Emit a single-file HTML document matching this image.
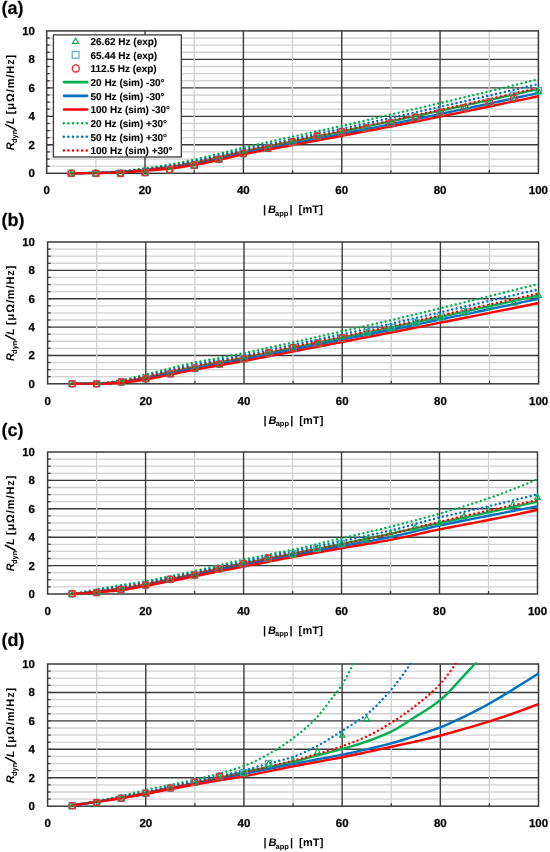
<!DOCTYPE html>
<html><head><meta charset="utf-8"><style>
html,body{margin:0;padding:0;background:#fff;}
body{width:550px;height:852px;overflow:hidden;}
svg{display:block;will-change:transform;}
text{font-family:"Liberation Sans", sans-serif;font-weight:bold;fill:#000;stroke:#000;stroke-width:0;text-rendering:geometricPrecision;}
.tl{font-size:11.5px;stroke-width:0.25px;}
.at{font-size:11px;}
.sub{font-size:7.5px;}
.pl{font-size:18px;stroke-width:0.2px;}
.lg{font-size:10px;stroke-width:0.12px;}
</style></head><body>
<svg width="550" height="852" viewBox="0 0 550 852">
<clipPath id="clipa"><rect x="46.7" y="29.4" width="492.7" height="145.4"/></clipPath>
<line x1="46.7" y1="166.18" x2="538.4" y2="166.18" stroke="#d0d0d0" stroke-width="1.3"/>
<line x1="46.7" y1="159.06" x2="538.4" y2="159.06" stroke="#d0d0d0" stroke-width="1.3"/>
<line x1="46.7" y1="151.94" x2="538.4" y2="151.94" stroke="#d0d0d0" stroke-width="1.3"/>
<line x1="46.7" y1="137.7" x2="538.4" y2="137.7" stroke="#d0d0d0" stroke-width="1.3"/>
<line x1="46.7" y1="130.58" x2="538.4" y2="130.58" stroke="#d0d0d0" stroke-width="1.3"/>
<line x1="46.7" y1="123.46" x2="538.4" y2="123.46" stroke="#d0d0d0" stroke-width="1.3"/>
<line x1="46.7" y1="109.22" x2="538.4" y2="109.22" stroke="#d0d0d0" stroke-width="1.3"/>
<line x1="46.7" y1="102.1" x2="538.4" y2="102.1" stroke="#d0d0d0" stroke-width="1.3"/>
<line x1="46.7" y1="94.98" x2="538.4" y2="94.98" stroke="#d0d0d0" stroke-width="1.3"/>
<line x1="46.7" y1="80.74" x2="538.4" y2="80.74" stroke="#d0d0d0" stroke-width="1.3"/>
<line x1="46.7" y1="73.62" x2="538.4" y2="73.62" stroke="#d0d0d0" stroke-width="1.3"/>
<line x1="46.7" y1="66.5" x2="538.4" y2="66.5" stroke="#d0d0d0" stroke-width="1.3"/>
<line x1="46.7" y1="52.26" x2="538.4" y2="52.26" stroke="#d0d0d0" stroke-width="1.3"/>
<line x1="46.7" y1="45.14" x2="538.4" y2="45.14" stroke="#d0d0d0" stroke-width="1.3"/>
<line x1="46.7" y1="38.02" x2="538.4" y2="38.02" stroke="#d0d0d0" stroke-width="1.3"/>
<line x1="46.7" y1="144.82" x2="538.4" y2="144.82" stroke="#3a3a3a" stroke-width="1.4"/>
<line x1="46.7" y1="116.34" x2="538.4" y2="116.34" stroke="#3a3a3a" stroke-width="1.4"/>
<line x1="46.7" y1="87.86" x2="538.4" y2="87.86" stroke="#3a3a3a" stroke-width="1.4"/>
<line x1="46.7" y1="59.38" x2="538.4" y2="59.38" stroke="#3a3a3a" stroke-width="1.4"/>
<line x1="95.87" y1="30.9" x2="95.87" y2="173.3" stroke="#d0d0d0" stroke-width="1.3"/>
<line x1="194.21" y1="30.9" x2="194.21" y2="173.3" stroke="#d0d0d0" stroke-width="1.3"/>
<line x1="292.55" y1="30.9" x2="292.55" y2="173.3" stroke="#d0d0d0" stroke-width="1.3"/>
<line x1="390.89" y1="30.9" x2="390.89" y2="173.3" stroke="#d0d0d0" stroke-width="1.3"/>
<line x1="489.23" y1="30.9" x2="489.23" y2="173.3" stroke="#d0d0d0" stroke-width="1.3"/>
<line x1="145.04" y1="30.9" x2="145.04" y2="173.3" stroke="#3a3a3a" stroke-width="1.4"/>
<line x1="243.38" y1="30.9" x2="243.38" y2="173.3" stroke="#3a3a3a" stroke-width="1.4"/>
<line x1="341.72" y1="30.9" x2="341.72" y2="173.3" stroke="#3a3a3a" stroke-width="1.4"/>
<line x1="440.06" y1="30.9" x2="440.06" y2="173.3" stroke="#3a3a3a" stroke-width="1.4"/>
<line x1="46.7" y1="166.18" x2="49.7" y2="166.18" stroke="#3a3a3a" stroke-width="1.3"/>
<line x1="46.7" y1="159.06" x2="49.7" y2="159.06" stroke="#3a3a3a" stroke-width="1.3"/>
<line x1="46.7" y1="151.94" x2="49.7" y2="151.94" stroke="#3a3a3a" stroke-width="1.3"/>
<line x1="46.7" y1="144.82" x2="49.7" y2="144.82" stroke="#3a3a3a" stroke-width="1.3"/>
<line x1="46.7" y1="137.7" x2="49.7" y2="137.7" stroke="#3a3a3a" stroke-width="1.3"/>
<line x1="46.7" y1="130.58" x2="49.7" y2="130.58" stroke="#3a3a3a" stroke-width="1.3"/>
<line x1="46.7" y1="123.46" x2="49.7" y2="123.46" stroke="#3a3a3a" stroke-width="1.3"/>
<line x1="46.7" y1="116.34" x2="49.7" y2="116.34" stroke="#3a3a3a" stroke-width="1.3"/>
<line x1="46.7" y1="109.22" x2="49.7" y2="109.22" stroke="#3a3a3a" stroke-width="1.3"/>
<line x1="46.7" y1="102.1" x2="49.7" y2="102.1" stroke="#3a3a3a" stroke-width="1.3"/>
<line x1="46.7" y1="94.98" x2="49.7" y2="94.98" stroke="#3a3a3a" stroke-width="1.3"/>
<line x1="46.7" y1="87.86" x2="49.7" y2="87.86" stroke="#3a3a3a" stroke-width="1.3"/>
<line x1="46.7" y1="80.74" x2="49.7" y2="80.74" stroke="#3a3a3a" stroke-width="1.3"/>
<line x1="46.7" y1="73.62" x2="49.7" y2="73.62" stroke="#3a3a3a" stroke-width="1.3"/>
<line x1="46.7" y1="66.5" x2="49.7" y2="66.5" stroke="#3a3a3a" stroke-width="1.3"/>
<line x1="46.7" y1="59.38" x2="49.7" y2="59.38" stroke="#3a3a3a" stroke-width="1.3"/>
<line x1="46.7" y1="52.26" x2="49.7" y2="52.26" stroke="#3a3a3a" stroke-width="1.3"/>
<line x1="46.7" y1="45.14" x2="49.7" y2="45.14" stroke="#3a3a3a" stroke-width="1.3"/>
<line x1="46.7" y1="38.02" x2="49.7" y2="38.02" stroke="#3a3a3a" stroke-width="1.3"/>
<line x1="95.87" y1="173.3" x2="95.87" y2="170.3" stroke="#3a3a3a" stroke-width="1.3"/>
<line x1="194.21" y1="173.3" x2="194.21" y2="170.3" stroke="#3a3a3a" stroke-width="1.3"/>
<line x1="292.55" y1="173.3" x2="292.55" y2="170.3" stroke="#3a3a3a" stroke-width="1.3"/>
<line x1="390.89" y1="173.3" x2="390.89" y2="170.3" stroke="#3a3a3a" stroke-width="1.3"/>
<line x1="489.23" y1="173.3" x2="489.23" y2="170.3" stroke="#3a3a3a" stroke-width="1.3"/>
<rect x="46.7" y="30.9" width="491.7" height="142.4" fill="none" stroke="#3a3a3a" stroke-width="1.5"/>
<g clip-path="url(#clipa)" fill="none">
<polyline points="71.28,173.3 76.2,173.26 81.12,173.2 86.04,173.11 90.95,173.01 95.87,172.89 100.79,172.76 105.7,172.59 110.62,172.39 115.54,172.16 120.45,171.89 125.37,171.57 130.29,171.16 135.21,170.69 140.12,170.2 145.04,169.7 149.96,169.2 154.87,168.67 159.79,168.12 164.71,167.53 169.62,166.89 174.54,166.17 179.46,165.38 184.38,164.54 189.29,163.64 194.21,162.71 199.13,161.74 204.04,160.69 208.96,159.6 213.88,158.49 218.8,157.36 223.71,156.21 228.63,155.01 233.55,153.8 238.46,152.61 243.38,151.48 248.3,150.41 253.21,149.37 258.13,148.35 263.05,147.35 267.96,146.37 272.88,145.4 277.8,144.43 282.72,143.46 287.63,142.48 292.55,141.49 297.47,140.5 302.38,139.51 307.3,138.52 312.22,137.53 317.13,136.54 322.05,135.55 326.97,134.56 331.89,133.57 336.8,132.57 341.72,131.56 346.64,130.55 351.55,129.54 356.47,128.52 361.39,127.5 366.31,126.47 371.22,125.44 376.14,124.41 381.06,123.38 385.97,122.34 390.89,121.31 395.81,120.27 400.72,119.23 405.64,118.19 410.56,117.14 415.47,116.09 420.39,115.04 425.31,113.99 430.23,112.93 435.14,111.87 440.06,110.81 444.98,109.74 449.89,108.66 454.81,107.59 459.73,106.5 464.64,105.42 469.56,104.33 474.48,103.24 479.4,102.15 484.31,101.06 489.23,99.96 494.15,98.87 499.06,97.77 503.98,96.67 508.9,95.57 513.81,94.46 518.73,93.36 523.65,92.25 528.57,91.14 533.48,90.03 538.4,88.91" stroke="#00b050" stroke-width="2.4" stroke-linejoin="round"/>
<polyline points="71.28,173.3 76.2,173.26 81.12,173.21 86.04,173.14 90.95,173.05 95.87,172.96 100.79,172.86 105.7,172.73 110.62,172.58 115.54,172.41 120.45,172.2 125.37,171.93 130.29,171.57 135.21,171.16 140.12,170.72 145.04,170.28 149.96,169.84 154.87,169.4 159.79,168.92 164.71,168.41 169.62,167.84 174.54,167.2 179.46,166.49 184.38,165.71 189.29,164.88 194.21,164.01 199.13,163.09 204.04,162.09 208.96,161.04 213.88,159.96 218.8,158.87 223.71,157.74 228.63,156.56 233.55,155.36 238.46,154.19 243.38,153.09 248.3,152.05 253.21,151.04 258.13,150.07 263.05,149.11 267.96,148.17 272.88,147.24 277.8,146.32 282.72,145.39 287.63,144.46 292.55,143.51 297.47,142.55 302.38,141.6 307.3,140.65 312.22,139.7 317.13,138.74 322.05,137.79 326.97,136.84 331.89,135.88 336.8,134.92 341.72,133.95 346.64,132.99 351.55,132.02 356.47,131.05 361.39,130.08 366.31,129.1 371.22,128.12 376.14,127.14 381.06,126.16 385.97,125.17 390.89,124.18 395.81,123.18 400.72,122.18 405.64,121.18 410.56,120.17 415.47,119.16 420.39,118.14 425.31,117.13 430.23,116.1 435.14,115.08 440.06,114.05 444.98,113.02 449.89,111.99 454.81,110.95 459.73,109.91 464.64,108.87 469.56,107.82 474.48,106.77 479.4,105.72 484.31,104.67 489.23,103.62 494.15,102.57 499.06,101.51 503.98,100.46 508.9,99.4 513.81,98.34 518.73,97.28 523.65,96.21 528.57,95.15 533.48,94.08 538.4,93.01" stroke="#0070c0" stroke-width="2.4" stroke-linejoin="round"/>
<polyline points="71.28,173.3 76.2,173.26 81.12,173.22 86.04,173.16 90.95,173.09 95.87,173.02 100.79,172.93 105.7,172.84 110.62,172.73 115.54,172.6 120.45,172.45 125.37,172.22 130.29,171.9 135.21,171.53 140.12,171.13 145.04,170.74 149.96,170.36 154.87,169.97 159.79,169.55 164.71,169.1 169.62,168.6 174.54,168.02 179.46,167.36 184.38,166.64 189.29,165.86 194.21,165.04 199.13,164.16 204.04,163.2 208.96,162.18 213.88,161.12 218.8,160.06 223.71,158.95 228.63,157.78 233.55,156.6 238.46,155.44 243.38,154.36 248.3,153.35 253.21,152.37 258.13,151.43 263.05,150.5 267.96,149.6 272.88,148.7 277.8,147.81 282.72,146.92 287.63,146.02 292.55,145.1 297.47,144.18 302.38,143.26 307.3,142.33 312.22,141.41 317.13,140.49 322.05,139.56 326.97,138.64 331.89,137.71 336.8,136.78 341.72,135.85 346.64,134.92 351.55,133.98 356.47,133.05 361.39,132.12 366.31,131.18 371.22,130.25 376.14,129.31 381.06,128.36 385.97,127.41 390.89,126.45 395.81,125.49 400.72,124.52 405.64,123.54 410.56,122.57 415.47,121.58 420.39,120.6 425.31,119.61 430.23,118.61 435.14,117.62 440.06,116.62 444.98,115.63 449.89,114.62 454.81,113.62 459.73,112.61 464.64,111.6 469.56,110.58 474.48,109.57 479.4,108.55 484.31,107.53 489.23,106.51 494.15,105.5 499.06,104.48 503.98,103.45 508.9,102.43 513.81,101.41 518.73,100.38 523.65,99.35 528.57,98.32 533.48,97.29 538.4,96.26" stroke="#ff0000" stroke-width="2.4" stroke-linejoin="round"/>
<polyline points="71.28,173.3 76.2,173.26 81.12,173.17 86.04,173.04 90.95,172.89 95.87,172.73 100.79,172.53 105.7,172.25 110.62,171.93 115.54,171.56 120.45,171.16 125.37,170.71 130.29,170.18 135.21,169.59 140.12,168.96 145.04,168.32 149.96,167.65 154.87,166.96 159.79,166.22 164.71,165.44 169.62,164.61 174.54,163.72 179.46,162.76 184.38,161.75 189.29,160.7 194.21,159.63 199.13,158.53 204.04,157.37 208.96,156.19 213.88,154.99 218.8,153.79 223.71,152.58 228.63,151.33 233.55,150.09 238.46,148.86 243.38,147.67 248.3,146.52 253.21,145.39 258.13,144.27 263.05,143.18 267.96,142.09 272.88,141.01 277.8,139.94 282.72,138.87 287.63,137.79 292.55,136.7 297.47,135.62 302.38,134.54 307.3,133.46 312.22,132.39 317.13,131.32 322.05,130.24 326.97,129.16 331.89,128.08 336.8,126.98 341.72,125.88 346.64,124.77 351.55,123.64 356.47,122.51 361.39,121.37 366.31,120.22 371.22,119.07 376.14,117.92 381.06,116.78 385.97,115.63 390.89,114.49 395.81,113.35 400.72,112.22 405.64,111.08 410.56,109.95 415.47,108.82 420.39,107.68 425.31,106.55 430.23,105.4 435.14,104.25 440.06,103.1 444.98,101.93 449.89,100.77 454.81,99.59 459.73,98.41 464.64,97.23 469.56,96.05 474.48,94.86 479.4,93.67 484.31,92.47 489.23,91.28 494.15,90.08 499.06,88.88 503.98,87.68 508.9,86.47 513.81,85.26 518.73,84.05 523.65,82.83 528.57,81.62 533.48,80.4 538.4,79.17" stroke="#00b050" stroke-width="2.4" stroke-linecap="round" stroke-dasharray="0.01 4.5"/>
<polyline points="71.28,173.3 76.2,173.26 81.12,173.18 86.04,173.08 90.95,172.95 95.87,172.81 100.79,172.64 105.7,172.42 110.62,172.15 115.54,171.85 120.45,171.52 125.37,171.13 130.29,170.66 135.21,170.13 140.12,169.57 145.04,168.99 149.96,168.41 154.87,167.8 159.79,167.15 164.71,166.47 169.62,165.73 174.54,164.93 179.46,164.05 184.38,163.12 189.29,162.14 194.21,161.14 199.13,160.1 204.04,159 208.96,157.87 213.88,156.71 218.8,155.55 223.71,154.36 228.63,153.14 233.55,151.91 238.46,150.7 243.38,149.54 248.3,148.43 253.21,147.34 258.13,146.28 263.05,145.23 267.96,144.19 272.88,143.17 277.8,142.14 282.72,141.12 287.63,140.09 292.55,139.06 297.47,138.02 302.38,136.98 307.3,135.95 312.22,134.92 317.13,133.88 322.05,132.85 326.97,131.82 331.89,130.78 336.8,129.73 341.72,128.67 346.64,127.61 351.55,126.54 356.47,125.46 361.39,124.38 366.31,123.29 371.22,122.2 376.14,121.11 381.06,120.02 385.97,118.93 390.89,117.84 395.81,116.75 400.72,115.66 405.64,114.57 410.56,113.48 415.47,112.39 420.39,111.3 425.31,110.2 430.23,109.1 435.14,108 440.06,106.88 444.98,105.77 449.89,104.65 454.81,103.52 459.73,102.39 464.64,101.25 469.56,100.12 474.48,98.98 479.4,97.83 484.31,96.69 489.23,95.54 494.15,94.4 499.06,93.25 503.98,92.09 508.9,90.94 513.81,89.78 518.73,88.62 523.65,87.46 528.57,86.3 533.48,85.13 538.4,83.96" stroke="#0070c0" stroke-width="2.4" stroke-linecap="round" stroke-dasharray="0.01 4.5"/>
<polyline points="71.28,173.3 76.2,173.26 81.12,173.19 86.04,173.1 90.95,172.99 95.87,172.88 100.79,172.73 105.7,172.55 110.62,172.34 115.54,172.09 120.45,171.82 125.37,171.48 130.29,171.06 135.21,170.58 140.12,170.07 145.04,169.55 149.96,169.03 154.87,168.49 159.79,167.92 164.71,167.31 169.62,166.65 174.54,165.91 179.46,165.11 184.38,164.24 189.29,163.33 194.21,162.39 199.13,161.4 204.04,160.34 208.96,159.24 213.88,158.12 218.8,156.99 223.71,155.83 228.63,154.62 233.55,153.41 238.46,152.22 243.38,151.08 248.3,150 253.21,148.95 258.13,147.92 263.05,146.91 267.96,145.92 272.88,144.94 277.8,143.95 282.72,142.97 287.63,141.99 292.55,140.99 297.47,139.98 302.38,138.98 307.3,137.99 312.22,136.99 317.13,135.99 322.05,135 326.97,133.99 331.89,132.99 336.8,131.98 341.72,130.96 346.64,129.94 351.55,128.92 356.47,127.88 361.39,126.85 366.31,125.81 371.22,124.77 376.14,123.73 381.06,122.68 385.97,121.64 390.89,120.59 395.81,119.54 400.72,118.49 405.64,117.44 410.56,116.38 415.47,115.33 420.39,114.27 425.31,113.21 430.23,112.14 435.14,111.07 440.06,110 444.98,108.92 449.89,107.83 454.81,106.74 459.73,105.65 464.64,104.56 469.56,103.46 474.48,102.36 479.4,101.26 484.31,100.15 489.23,99.05 494.15,97.94 499.06,96.83 503.98,95.72 508.9,94.61 513.81,93.5 518.73,92.38 523.65,91.26 528.57,90.14 533.48,89.01 538.4,87.89" stroke="#ff0000" stroke-width="2.4" stroke-linecap="round" stroke-dasharray="0.01 4.5"/>
</g>
<rect x="68.08" y="170.1" width="6.4" height="6.4" fill="none" stroke="#4bacc6" stroke-width="1.15"/>
<rect x="92.67" y="170.1" width="6.4" height="6.4" fill="none" stroke="#4bacc6" stroke-width="1.15"/>
<rect x="117.25" y="170.1" width="6.4" height="6.4" fill="none" stroke="#4bacc6" stroke-width="1.15"/>
<rect x="141.84" y="169.39" width="6.4" height="6.4" fill="none" stroke="#4bacc6" stroke-width="1.15"/>
<rect x="166.43" y="166.4" width="6.4" height="6.4" fill="none" stroke="#4bacc6" stroke-width="1.15"/>
<rect x="191.01" y="162.13" width="6.4" height="6.4" fill="none" stroke="#4bacc6" stroke-width="1.15"/>
<rect x="215.6" y="156.14" width="6.4" height="6.4" fill="none" stroke="#4bacc6" stroke-width="1.15"/>
<rect x="240.18" y="150.45" width="6.4" height="6.4" fill="none" stroke="#4bacc6" stroke-width="1.15"/>
<rect x="264.76" y="145.04" width="6.4" height="6.4" fill="none" stroke="#4bacc6" stroke-width="1.15"/>
<rect x="289.35" y="138.77" width="6.4" height="6.4" fill="none" stroke="#4bacc6" stroke-width="1.15"/>
<rect x="313.94" y="132.79" width="6.4" height="6.4" fill="none" stroke="#4bacc6" stroke-width="1.15"/>
<rect x="338.52" y="128.38" width="6.4" height="6.4" fill="none" stroke="#4bacc6" stroke-width="1.15"/>
<rect x="363.11" y="124.96" width="6.4" height="6.4" fill="none" stroke="#4bacc6" stroke-width="1.15"/>
<rect x="387.69" y="119.55" width="6.4" height="6.4" fill="none" stroke="#4bacc6" stroke-width="1.15"/>
<rect x="412.27" y="114.14" width="6.4" height="6.4" fill="none" stroke="#4bacc6" stroke-width="1.15"/>
<rect x="436.86" y="109.15" width="6.4" height="6.4" fill="none" stroke="#4bacc6" stroke-width="1.15"/>
<rect x="461.44" y="104.45" width="6.4" height="6.4" fill="none" stroke="#4bacc6" stroke-width="1.15"/>
<rect x="486.03" y="99.04" width="6.4" height="6.4" fill="none" stroke="#4bacc6" stroke-width="1.15"/>
<rect x="510.61" y="92.06" width="6.4" height="6.4" fill="none" stroke="#4bacc6" stroke-width="1.15"/>
<rect x="535.2" y="87.51" width="6.4" height="6.4" fill="none" stroke="#4bacc6" stroke-width="1.15"/>
<path d="M71.28,170.5 L74.08,175.9 L68.48,175.9 Z" fill="none" stroke="#00b050" stroke-width="1.15"/>
<path d="M95.87,170.5 L98.67,175.9 L93.07,175.9 Z" fill="none" stroke="#00b050" stroke-width="1.15"/>
<path d="M120.45,170.5 L123.25,175.9 L117.66,175.9 Z" fill="none" stroke="#00b050" stroke-width="1.15"/>
<path d="M145.04,169.79 L147.84,175.19 L142.24,175.19 Z" fill="none" stroke="#00b050" stroke-width="1.15"/>
<path d="M169.62,166.8 L172.43,172.2 L166.82,172.2 Z" fill="none" stroke="#00b050" stroke-width="1.15"/>
<path d="M194.21,162.53 L197.01,167.93 L191.41,167.93 Z" fill="none" stroke="#00b050" stroke-width="1.15"/>
<path d="M218.8,156.54 L221.6,161.94 L216,161.94 Z" fill="none" stroke="#00b050" stroke-width="1.15"/>
<path d="M243.38,150.85 L246.18,156.25 L240.58,156.25 Z" fill="none" stroke="#00b050" stroke-width="1.15"/>
<path d="M267.96,145.44 L270.76,150.84 L265.16,150.84 Z" fill="none" stroke="#00b050" stroke-width="1.15"/>
<path d="M292.55,139.17 L295.35,144.57 L289.75,144.57 Z" fill="none" stroke="#00b050" stroke-width="1.15"/>
<path d="M317.13,133.19 L319.94,138.59 L314.33,138.59 Z" fill="none" stroke="#00b050" stroke-width="1.15"/>
<path d="M341.72,128.78 L344.52,134.18 L338.92,134.18 Z" fill="none" stroke="#00b050" stroke-width="1.15"/>
<path d="M366.31,125.36 L369.11,130.76 L363.5,130.76 Z" fill="none" stroke="#00b050" stroke-width="1.15"/>
<path d="M390.89,119.95 L393.69,125.35 L388.09,125.35 Z" fill="none" stroke="#00b050" stroke-width="1.15"/>
<path d="M415.47,114.54 L418.27,119.94 L412.67,119.94 Z" fill="none" stroke="#00b050" stroke-width="1.15"/>
<path d="M440.06,109.55 L442.86,114.95 L437.26,114.95 Z" fill="none" stroke="#00b050" stroke-width="1.15"/>
<path d="M464.64,104.85 L467.44,110.25 L461.84,110.25 Z" fill="none" stroke="#00b050" stroke-width="1.15"/>
<path d="M489.23,99.44 L492.03,104.84 L486.43,104.84 Z" fill="none" stroke="#00b050" stroke-width="1.15"/>
<path d="M513.81,95.6 L516.61,101 L511.01,101 Z" fill="none" stroke="#00b050" stroke-width="1.15"/>
<path d="M538.4,87.91 L541.2,93.31 L535.6,93.31 Z" fill="none" stroke="#00b050" stroke-width="1.15"/>
<circle cx="71.28" cy="173.3" r="3.2" fill="none" stroke="#ff2020" stroke-width="1.3"/>
<circle cx="95.87" cy="173.3" r="3.2" fill="none" stroke="#ff2020" stroke-width="1.3"/>
<circle cx="120.45" cy="173.3" r="3.2" fill="none" stroke="#ff2020" stroke-width="1.3"/>
<circle cx="145.04" cy="172.59" r="3.2" fill="none" stroke="#ff2020" stroke-width="1.3"/>
<circle cx="169.62" cy="169.6" r="3.2" fill="none" stroke="#ff2020" stroke-width="1.3"/>
<circle cx="194.21" cy="165.33" r="3.2" fill="none" stroke="#ff2020" stroke-width="1.3"/>
<circle cx="218.8" cy="159.34" r="3.2" fill="none" stroke="#ff2020" stroke-width="1.3"/>
<circle cx="243.38" cy="153.65" r="3.2" fill="none" stroke="#ff2020" stroke-width="1.3"/>
<circle cx="267.96" cy="148.24" r="3.2" fill="none" stroke="#ff2020" stroke-width="1.3"/>
<circle cx="292.55" cy="141.97" r="3.2" fill="none" stroke="#ff2020" stroke-width="1.3"/>
<circle cx="317.13" cy="135.99" r="3.2" fill="none" stroke="#ff2020" stroke-width="1.3"/>
<circle cx="341.72" cy="131.58" r="3.2" fill="none" stroke="#ff2020" stroke-width="1.3"/>
<circle cx="366.31" cy="128.16" r="3.2" fill="none" stroke="#ff2020" stroke-width="1.3"/>
<circle cx="390.89" cy="122.75" r="3.2" fill="none" stroke="#ff2020" stroke-width="1.3"/>
<circle cx="415.47" cy="117.34" r="3.2" fill="none" stroke="#ff2020" stroke-width="1.3"/>
<circle cx="440.06" cy="112.35" r="3.2" fill="none" stroke="#ff2020" stroke-width="1.3"/>
<circle cx="464.64" cy="107.65" r="3.2" fill="none" stroke="#ff2020" stroke-width="1.3"/>
<circle cx="489.23" cy="102.24" r="3.2" fill="none" stroke="#ff2020" stroke-width="1.3"/>
<circle cx="513.81" cy="98.4" r="3.2" fill="none" stroke="#ff2020" stroke-width="1.3"/>
<text x="35" y="177.3" text-anchor="end" class="tl">0</text>
<text x="35" y="148.82" text-anchor="end" class="tl">2</text>
<text x="35" y="120.34" text-anchor="end" class="tl">4</text>
<text x="35" y="91.86" text-anchor="end" class="tl">6</text>
<text x="35" y="63.38" text-anchor="end" class="tl">8</text>
<text x="35" y="34.9" text-anchor="end" class="tl">10</text>
<text x="46.7" y="194.2" text-anchor="middle" class="tl">0</text>
<text x="145.04" y="194.2" text-anchor="middle" class="tl">20</text>
<text x="243.38" y="194.2" text-anchor="middle" class="tl">40</text>
<text x="341.72" y="194.2" text-anchor="middle" class="tl">60</text>
<text x="440.06" y="194.2" text-anchor="middle" class="tl">80</text>
<text x="538.4" y="194.2" text-anchor="middle" class="tl">100</text>
<text x="262.9" y="213.3" class="at">|</text>
<text x="267.9" y="213.3" class="at" font-style="italic">B</text>
<text x="275.1" y="215.7" class="sub">app</text>
<text x="289.6" y="213.3" class="at">|</text>
<text x="298.6" y="213.3" class="at" textLength="24.2" lengthAdjust="spacing">[mT]</text>
<g transform="translate(14.4,0) rotate(-90)"><text x="-150.3" y="0" class="at" font-style="italic">R</text><text x="-143.1" y="2.1" class="sub">dyn</text><line x1="-129.6" y1="1.2" x2="-124.1" y2="-9.4" stroke="#000" stroke-width="1.55"/><text x="-124.2" y="0" class="at" font-style="italic">L</text><text x="-114.2" y="0" class="at" textLength="59.4" lengthAdjust="spacing">[μΩ/m/Hz]</text></g>
<text x="1.5" y="14.4" class="pl">(a)</text>
<clipPath id="clipb"><rect x="47.6" y="240.5" width="492" height="144.8"/></clipPath>
<line x1="47.6" y1="376.71" x2="538.6" y2="376.71" stroke="#d0d0d0" stroke-width="1.3"/>
<line x1="47.6" y1="369.62" x2="538.6" y2="369.62" stroke="#d0d0d0" stroke-width="1.3"/>
<line x1="47.6" y1="362.53" x2="538.6" y2="362.53" stroke="#d0d0d0" stroke-width="1.3"/>
<line x1="47.6" y1="348.35" x2="538.6" y2="348.35" stroke="#d0d0d0" stroke-width="1.3"/>
<line x1="47.6" y1="341.26" x2="538.6" y2="341.26" stroke="#d0d0d0" stroke-width="1.3"/>
<line x1="47.6" y1="334.17" x2="538.6" y2="334.17" stroke="#d0d0d0" stroke-width="1.3"/>
<line x1="47.6" y1="319.99" x2="538.6" y2="319.99" stroke="#d0d0d0" stroke-width="1.3"/>
<line x1="47.6" y1="312.9" x2="538.6" y2="312.9" stroke="#d0d0d0" stroke-width="1.3"/>
<line x1="47.6" y1="305.81" x2="538.6" y2="305.81" stroke="#d0d0d0" stroke-width="1.3"/>
<line x1="47.6" y1="291.63" x2="538.6" y2="291.63" stroke="#d0d0d0" stroke-width="1.3"/>
<line x1="47.6" y1="284.54" x2="538.6" y2="284.54" stroke="#d0d0d0" stroke-width="1.3"/>
<line x1="47.6" y1="277.45" x2="538.6" y2="277.45" stroke="#d0d0d0" stroke-width="1.3"/>
<line x1="47.6" y1="263.27" x2="538.6" y2="263.27" stroke="#d0d0d0" stroke-width="1.3"/>
<line x1="47.6" y1="256.18" x2="538.6" y2="256.18" stroke="#d0d0d0" stroke-width="1.3"/>
<line x1="47.6" y1="249.09" x2="538.6" y2="249.09" stroke="#d0d0d0" stroke-width="1.3"/>
<line x1="47.6" y1="355.44" x2="538.6" y2="355.44" stroke="#3a3a3a" stroke-width="1.4"/>
<line x1="47.6" y1="327.08" x2="538.6" y2="327.08" stroke="#3a3a3a" stroke-width="1.4"/>
<line x1="47.6" y1="298.72" x2="538.6" y2="298.72" stroke="#3a3a3a" stroke-width="1.4"/>
<line x1="47.6" y1="270.36" x2="538.6" y2="270.36" stroke="#3a3a3a" stroke-width="1.4"/>
<line x1="96.7" y1="242" x2="96.7" y2="383.8" stroke="#d0d0d0" stroke-width="1.3"/>
<line x1="194.9" y1="242" x2="194.9" y2="383.8" stroke="#d0d0d0" stroke-width="1.3"/>
<line x1="293.1" y1="242" x2="293.1" y2="383.8" stroke="#d0d0d0" stroke-width="1.3"/>
<line x1="391.3" y1="242" x2="391.3" y2="383.8" stroke="#d0d0d0" stroke-width="1.3"/>
<line x1="489.5" y1="242" x2="489.5" y2="383.8" stroke="#d0d0d0" stroke-width="1.3"/>
<line x1="145.8" y1="242" x2="145.8" y2="383.8" stroke="#3a3a3a" stroke-width="1.4"/>
<line x1="244" y1="242" x2="244" y2="383.8" stroke="#3a3a3a" stroke-width="1.4"/>
<line x1="342.2" y1="242" x2="342.2" y2="383.8" stroke="#3a3a3a" stroke-width="1.4"/>
<line x1="440.4" y1="242" x2="440.4" y2="383.8" stroke="#3a3a3a" stroke-width="1.4"/>
<line x1="47.6" y1="376.71" x2="50.6" y2="376.71" stroke="#3a3a3a" stroke-width="1.3"/>
<line x1="47.6" y1="369.62" x2="50.6" y2="369.62" stroke="#3a3a3a" stroke-width="1.3"/>
<line x1="47.6" y1="362.53" x2="50.6" y2="362.53" stroke="#3a3a3a" stroke-width="1.3"/>
<line x1="47.6" y1="355.44" x2="50.6" y2="355.44" stroke="#3a3a3a" stroke-width="1.3"/>
<line x1="47.6" y1="348.35" x2="50.6" y2="348.35" stroke="#3a3a3a" stroke-width="1.3"/>
<line x1="47.6" y1="341.26" x2="50.6" y2="341.26" stroke="#3a3a3a" stroke-width="1.3"/>
<line x1="47.6" y1="334.17" x2="50.6" y2="334.17" stroke="#3a3a3a" stroke-width="1.3"/>
<line x1="47.6" y1="327.08" x2="50.6" y2="327.08" stroke="#3a3a3a" stroke-width="1.3"/>
<line x1="47.6" y1="319.99" x2="50.6" y2="319.99" stroke="#3a3a3a" stroke-width="1.3"/>
<line x1="47.6" y1="312.9" x2="50.6" y2="312.9" stroke="#3a3a3a" stroke-width="1.3"/>
<line x1="47.6" y1="305.81" x2="50.6" y2="305.81" stroke="#3a3a3a" stroke-width="1.3"/>
<line x1="47.6" y1="298.72" x2="50.6" y2="298.72" stroke="#3a3a3a" stroke-width="1.3"/>
<line x1="47.6" y1="291.63" x2="50.6" y2="291.63" stroke="#3a3a3a" stroke-width="1.3"/>
<line x1="47.6" y1="284.54" x2="50.6" y2="284.54" stroke="#3a3a3a" stroke-width="1.3"/>
<line x1="47.6" y1="277.45" x2="50.6" y2="277.45" stroke="#3a3a3a" stroke-width="1.3"/>
<line x1="47.6" y1="270.36" x2="50.6" y2="270.36" stroke="#3a3a3a" stroke-width="1.3"/>
<line x1="47.6" y1="263.27" x2="50.6" y2="263.27" stroke="#3a3a3a" stroke-width="1.3"/>
<line x1="47.6" y1="256.18" x2="50.6" y2="256.18" stroke="#3a3a3a" stroke-width="1.3"/>
<line x1="47.6" y1="249.09" x2="50.6" y2="249.09" stroke="#3a3a3a" stroke-width="1.3"/>
<line x1="96.7" y1="383.8" x2="96.7" y2="380.8" stroke="#3a3a3a" stroke-width="1.3"/>
<line x1="194.9" y1="383.8" x2="194.9" y2="380.8" stroke="#3a3a3a" stroke-width="1.3"/>
<line x1="293.1" y1="383.8" x2="293.1" y2="380.8" stroke="#3a3a3a" stroke-width="1.3"/>
<line x1="391.3" y1="383.8" x2="391.3" y2="380.8" stroke="#3a3a3a" stroke-width="1.3"/>
<line x1="489.5" y1="383.8" x2="489.5" y2="380.8" stroke="#3a3a3a" stroke-width="1.3"/>
<rect x="47.6" y="242" width="491" height="141.8" fill="none" stroke="#3a3a3a" stroke-width="1.5"/>
<g clip-path="url(#clipb)" fill="none">
<polyline points="72.15,383.8 77.06,383.8 81.97,383.78 86.88,383.76 91.79,383.73 96.7,383.69 101.61,383.54 106.52,383.22 111.43,382.77 116.34,382.25 121.25,381.7 126.16,381.06 131.07,380.26 135.98,379.35 140.89,378.39 145.8,377.42 150.71,376.42 155.62,375.35 160.53,374.23 165.44,373.12 170.35,372.03 175.26,370.96 180.17,369.88 185.08,368.81 189.99,367.77 194.9,366.78 199.81,365.85 204.72,364.97 209.63,364.1 214.54,363.24 219.45,362.36 224.36,361.46 229.27,360.56 234.18,359.65 239.09,358.73 244,357.79 248.91,356.84 253.82,355.87 258.73,354.88 263.64,353.89 268.55,352.89 273.46,351.88 278.37,350.87 283.28,349.86 288.19,348.85 293.1,347.84 298.01,346.83 302.92,345.83 307.83,344.82 312.74,343.8 317.65,342.79 322.56,341.78 327.47,340.76 332.38,339.75 337.29,338.73 342.2,337.72 347.11,336.7 352.02,335.69 356.93,334.68 361.84,333.67 366.75,332.66 371.66,331.64 376.57,330.62 381.48,329.6 386.39,328.57 391.3,327.53 396.21,326.49 401.12,325.44 406.03,324.38 410.94,323.32 415.85,322.25 420.76,321.18 425.67,320.11 430.58,319.04 435.49,317.97 440.4,316.9 445.31,315.83 450.22,314.77 455.13,313.7 460.04,312.63 464.95,311.57 469.86,310.5 474.77,309.43 479.68,308.36 484.59,307.28 489.5,306.21 494.41,305.13 499.32,304.05 504.23,302.97 509.14,301.89 514.05,300.81 518.96,299.72 523.87,298.64 528.78,297.55 533.69,296.46 538.6,295.37" stroke="#00b050" stroke-width="2.4" stroke-linejoin="round"/>
<polyline points="72.15,383.8 77.06,383.8 81.97,383.79 86.88,383.78 91.79,383.76 96.7,383.74 101.61,383.63 106.52,383.37 111.43,383.01 116.34,382.59 121.25,382.14 126.16,381.59 131.07,380.89 135.98,380.07 140.89,379.2 145.8,378.31 150.71,377.38 155.62,376.37 160.53,375.3 165.44,374.23 170.35,373.18 175.26,372.14 180.17,371.09 185.08,370.05 189.99,369.03 194.9,368.06 199.81,367.15 204.72,366.28 209.63,365.43 214.54,364.58 219.45,363.71 224.36,362.83 229.27,361.94 234.18,361.05 239.09,360.14 244,359.22 248.91,358.28 253.82,357.33 258.73,356.37 263.64,355.39 268.55,354.41 273.46,353.42 278.37,352.43 283.28,351.44 288.19,350.46 293.1,349.47 298.01,348.49 302.92,347.51 307.83,346.53 312.74,345.54 317.65,344.56 322.56,343.57 327.47,342.59 332.38,341.6 337.29,340.62 342.2,339.63 347.11,338.64 352.02,337.66 356.93,336.68 361.84,335.7 366.75,334.72 371.66,333.73 376.57,332.75 381.48,331.75 386.39,330.76 391.3,329.75 396.21,328.74 401.12,327.73 406.03,326.71 410.94,325.68 415.85,324.65 420.76,323.62 425.67,322.59 430.58,321.56 435.49,320.53 440.4,319.5 445.31,318.48 450.22,317.45 455.13,316.42 460.04,315.4 464.95,314.37 469.86,313.34 474.77,312.32 479.68,311.29 484.59,310.25 489.5,309.22 494.41,308.18 499.32,307.15 504.23,306.11 509.14,305.07 514.05,304.02 518.96,302.98 523.87,301.94 528.78,300.89 533.69,299.84 538.6,298.79" stroke="#0070c0" stroke-width="2.4" stroke-linejoin="round"/>
<polyline points="72.15,383.8 77.06,383.8 81.97,383.8 86.88,383.8 91.79,383.8 96.7,383.8 101.61,383.74 106.52,383.56 111.43,383.31 116.34,383 121.25,382.67 126.16,382.24 131.07,381.65 135.98,380.95 140.89,380.19 145.8,379.4 150.71,378.56 155.62,377.62 160.53,376.61 165.44,375.59 170.35,374.58 175.26,373.59 180.17,372.57 185.08,371.56 189.99,370.57 194.9,369.62 199.81,368.73 204.72,367.88 209.63,367.05 214.54,366.22 219.45,365.37 224.36,364.5 229.27,363.63 234.18,362.76 239.09,361.87 244,360.97 248.91,360.05 253.82,359.12 258.73,358.18 263.64,357.23 268.55,356.27 273.46,355.31 278.37,354.35 283.28,353.38 288.19,352.42 293.1,351.47 298.01,350.52 302.92,349.57 307.83,348.62 312.74,347.67 317.65,346.72 322.56,345.77 327.47,344.82 332.38,343.87 337.29,342.92 342.2,341.97 347.11,341.02 352.02,340.07 356.93,339.13 361.84,338.18 366.75,337.24 371.66,336.29 376.57,335.34 381.48,334.39 386.39,333.43 391.3,332.47 396.21,331.5 401.12,330.53 406.03,329.55 410.94,328.58 415.85,327.59 420.76,326.61 425.67,325.63 430.58,324.65 435.49,323.66 440.4,322.68 445.31,321.71 450.22,320.73 455.13,319.75 460.04,318.78 464.95,317.8 469.86,316.82 474.77,315.85 479.68,314.87 484.59,313.88 489.5,312.9 494.41,311.91 499.32,310.93 504.23,309.94 509.14,308.95 514.05,307.95 518.96,306.96 523.87,305.97 528.78,304.97 533.69,303.97 538.6,302.97" stroke="#ff0000" stroke-width="2.4" stroke-linejoin="round"/>
<polyline points="72.15,383.8 77.06,383.79 81.97,383.75 86.88,383.69 91.79,383.61 96.7,383.52 101.61,383.24 106.52,382.69 111.43,381.95 116.34,381.11 121.25,380.25 126.16,379.31 131.07,378.18 135.98,376.95 140.89,375.68 145.8,374.44 150.71,373.21 155.62,371.95 160.53,370.68 165.44,369.42 170.35,368.2 175.26,367.02 180.17,365.84 185.08,364.69 189.99,363.59 194.9,362.53 199.81,361.54 204.72,360.6 209.63,359.69 214.54,358.78 219.45,357.85 224.36,356.9 229.27,355.95 234.18,354.99 239.09,354.02 244,353.03 248.91,352.01 253.82,350.98 258.73,349.94 263.64,348.88 268.55,347.81 273.46,346.73 278.37,345.65 283.28,344.57 288.19,343.48 293.1,342.39 298.01,341.31 302.92,340.21 307.83,339.11 312.74,338.01 317.65,336.9 322.56,335.79 327.47,334.68 332.38,333.56 337.29,332.45 342.2,331.33 347.11,330.22 352.02,329.11 356.93,328.01 361.84,326.9 366.75,325.78 371.66,324.67 376.57,323.55 381.48,322.42 386.39,321.28 391.3,320.13 396.21,318.97 401.12,317.8 406.03,316.62 410.94,315.43 415.85,314.23 420.76,313.03 425.67,311.83 430.58,310.62 435.49,309.42 440.4,308.22 445.31,307.02 450.22,305.82 455.13,304.62 460.04,303.42 464.95,302.21 469.86,301.01 474.77,299.8 479.68,298.59 484.59,297.38 489.5,296.17 494.41,294.95 499.32,293.74 504.23,292.52 509.14,291.31 514.05,290.09 518.96,288.87 523.87,287.65 528.78,286.42 533.69,285.2 538.6,283.97" stroke="#00b050" stroke-width="2.4" stroke-linecap="round" stroke-dasharray="0.01 4.5"/>
<polyline points="72.15,383.8 77.06,383.79 81.97,383.76 86.88,383.72 91.79,383.67 96.7,383.6 101.61,383.38 106.52,382.94 111.43,382.34 116.34,381.64 121.25,380.93 126.16,380.13 131.07,379.15 135.98,378.07 140.89,376.95 145.8,375.83 150.71,374.71 155.62,373.53 160.53,372.34 165.44,371.15 170.35,369.99 175.26,368.86 180.17,367.73 185.08,366.62 189.99,365.54 194.9,364.52 199.81,363.55 204.72,362.64 209.63,361.75 214.54,360.86 219.45,359.95 224.36,359.03 229.27,358.1 234.18,357.17 239.09,356.22 244,355.25 248.91,354.27 253.82,353.26 258.73,352.24 263.64,351.22 268.55,350.18 273.46,349.13 278.37,348.09 283.28,347.04 288.19,345.98 293.1,344.94 298.01,343.89 302.92,342.83 307.83,341.77 312.74,340.71 317.65,339.65 322.56,338.58 327.47,337.52 332.38,336.45 337.29,335.38 342.2,334.31 347.11,333.25 352.02,332.18 356.93,331.12 361.84,330.06 366.75,328.99 371.66,327.92 376.57,326.85 381.48,325.77 386.39,324.68 391.3,323.59 396.21,322.48 401.12,321.36 406.03,320.24 410.94,319.11 415.85,317.97 420.76,316.83 425.67,315.69 430.58,314.55 435.49,313.41 440.4,312.27 445.31,311.13 450.22,310 455.13,308.86 460.04,307.72 464.95,306.58 469.86,305.43 474.77,304.29 479.68,303.15 484.59,302 489.5,300.85 494.41,299.7 499.32,298.55 504.23,297.4 509.14,296.25 514.05,295.09 518.96,293.93 523.87,292.78 528.78,291.62 533.69,290.46 538.6,289.29" stroke="#0070c0" stroke-width="2.4" stroke-linecap="round" stroke-dasharray="0.01 4.5"/>
<polyline points="72.15,383.8 77.06,383.79 81.97,383.78 86.88,383.75 91.79,383.71 96.7,383.66 101.61,383.49 106.52,383.13 111.43,382.63 116.34,382.06 121.25,381.46 126.16,380.77 131.07,379.92 135.98,378.95 140.89,377.94 145.8,376.92 150.71,375.88 155.62,374.78 160.53,373.64 165.44,372.5 170.35,371.39 175.26,370.3 180.17,369.21 185.08,368.13 189.99,367.08 194.9,366.07 199.81,365.13 204.72,364.24 209.63,363.37 214.54,362.5 219.45,361.61 224.36,360.7 229.27,359.79 234.18,358.88 239.09,357.95 244,357 248.91,356.03 253.82,355.05 258.73,354.06 263.64,353.05 268.55,352.04 273.46,351.02 278.37,350 283.28,348.97 288.19,347.95 293.1,346.93 298.01,345.91 302.92,344.89 307.83,343.87 312.74,342.84 317.65,341.81 322.56,340.78 327.47,339.75 332.38,338.72 337.29,337.68 342.2,336.65 347.11,335.62 352.02,334.59 356.93,333.57 361.84,332.54 366.75,331.51 371.66,330.48 376.57,329.44 381.48,328.4 386.39,327.36 391.3,326.3 396.21,325.24 401.12,324.16 406.03,323.09 410.94,322 415.85,320.91 420.76,319.82 425.67,318.73 430.58,317.63 435.49,316.54 440.4,315.45 445.31,314.36 450.22,313.28 455.13,312.19 460.04,311.1 464.95,310.01 469.86,308.91 474.77,307.82 479.68,306.73 484.59,305.63 489.5,304.53 494.41,303.43 499.32,302.33 504.23,301.23 509.14,300.13 514.05,299.02 518.96,297.91 523.87,296.81 528.78,295.7 533.69,294.59 538.6,293.47" stroke="#ff0000" stroke-width="2.4" stroke-linecap="round" stroke-dasharray="0.01 4.5"/>
</g>
<rect x="68.95" y="380.6" width="6.4" height="6.4" fill="none" stroke="#4bacc6" stroke-width="1.15"/>
<rect x="93.5" y="380.6" width="6.4" height="6.4" fill="none" stroke="#4bacc6" stroke-width="1.15"/>
<rect x="118.05" y="378.76" width="6.4" height="6.4" fill="none" stroke="#4bacc6" stroke-width="1.15"/>
<rect x="142.6" y="375.5" width="6.4" height="6.4" fill="none" stroke="#4bacc6" stroke-width="1.15"/>
<rect x="167.15" y="370.67" width="6.4" height="6.4" fill="none" stroke="#4bacc6" stroke-width="1.15"/>
<rect x="191.7" y="365.14" width="6.4" height="6.4" fill="none" stroke="#4bacc6" stroke-width="1.15"/>
<rect x="216.25" y="360.89" width="6.4" height="6.4" fill="none" stroke="#4bacc6" stroke-width="1.15"/>
<rect x="240.8" y="355.64" width="6.4" height="6.4" fill="none" stroke="#4bacc6" stroke-width="1.15"/>
<rect x="265.35" y="349.55" width="6.4" height="6.4" fill="none" stroke="#4bacc6" stroke-width="1.15"/>
<rect x="289.9" y="344.3" width="6.4" height="6.4" fill="none" stroke="#4bacc6" stroke-width="1.15"/>
<rect x="314.45" y="340.05" width="6.4" height="6.4" fill="none" stroke="#4bacc6" stroke-width="1.15"/>
<rect x="339" y="334.66" width="6.4" height="6.4" fill="none" stroke="#4bacc6" stroke-width="1.15"/>
<rect x="363.55" y="329.27" width="6.4" height="6.4" fill="none" stroke="#4bacc6" stroke-width="1.15"/>
<rect x="388.1" y="324.31" width="6.4" height="6.4" fill="none" stroke="#4bacc6" stroke-width="1.15"/>
<rect x="412.65" y="319.34" width="6.4" height="6.4" fill="none" stroke="#4bacc6" stroke-width="1.15"/>
<rect x="437.2" y="313.95" width="6.4" height="6.4" fill="none" stroke="#4bacc6" stroke-width="1.15"/>
<rect x="461.75" y="308.57" width="6.4" height="6.4" fill="none" stroke="#4bacc6" stroke-width="1.15"/>
<path d="M72.15,381 L74.95,386.4 L69.35,386.4 Z" fill="none" stroke="#00b050" stroke-width="1.15"/>
<path d="M96.7,381 L99.5,386.4 L93.9,386.4 Z" fill="none" stroke="#00b050" stroke-width="1.15"/>
<path d="M121.25,379.16 L124.05,384.56 L118.45,384.56 Z" fill="none" stroke="#00b050" stroke-width="1.15"/>
<path d="M145.8,375.9 L148.6,381.3 L143,381.3 Z" fill="none" stroke="#00b050" stroke-width="1.15"/>
<path d="M170.35,371.07 L173.15,376.47 L167.55,376.47 Z" fill="none" stroke="#00b050" stroke-width="1.15"/>
<path d="M194.9,365.54 L197.7,370.94 L192.1,370.94 Z" fill="none" stroke="#00b050" stroke-width="1.15"/>
<path d="M219.45,361.29 L222.25,366.69 L216.65,366.69 Z" fill="none" stroke="#00b050" stroke-width="1.15"/>
<path d="M244,356.04 L246.8,361.44 L241.2,361.44 Z" fill="none" stroke="#00b050" stroke-width="1.15"/>
<path d="M268.55,349.95 L271.35,355.35 L265.75,355.35 Z" fill="none" stroke="#00b050" stroke-width="1.15"/>
<path d="M293.1,344.7 L295.9,350.1 L290.3,350.1 Z" fill="none" stroke="#00b050" stroke-width="1.15"/>
<path d="M317.65,340.45 L320.45,345.85 L314.85,345.85 Z" fill="none" stroke="#00b050" stroke-width="1.15"/>
<path d="M342.2,335.06 L345,340.46 L339.4,340.46 Z" fill="none" stroke="#00b050" stroke-width="1.15"/>
<path d="M366.75,329.67 L369.55,335.07 L363.95,335.07 Z" fill="none" stroke="#00b050" stroke-width="1.15"/>
<path d="M391.3,324.71 L394.1,330.11 L388.5,330.11 Z" fill="none" stroke="#00b050" stroke-width="1.15"/>
<path d="M415.85,319.74 L418.65,325.14 L413.05,325.14 Z" fill="none" stroke="#00b050" stroke-width="1.15"/>
<path d="M440.4,314.35 L443.2,319.75 L437.6,319.75 Z" fill="none" stroke="#00b050" stroke-width="1.15"/>
<path d="M464.95,308.97 L467.75,314.37 L462.15,314.37 Z" fill="none" stroke="#00b050" stroke-width="1.15"/>
<path d="M489.5,304.14 L492.3,309.54 L486.7,309.54 Z" fill="none" stroke="#00b050" stroke-width="1.15"/>
<path d="M514.05,299.61 L516.85,305.01 L511.25,305.01 Z" fill="none" stroke="#00b050" stroke-width="1.15"/>
<path d="M538.6,291.95 L541.4,297.35 L535.8,297.35 Z" fill="none" stroke="#00b050" stroke-width="1.15"/>
<circle cx="72.15" cy="383.8" r="3.2" fill="none" stroke="#ff2020" stroke-width="1.3"/>
<circle cx="96.7" cy="383.8" r="3.2" fill="none" stroke="#ff2020" stroke-width="1.3"/>
<circle cx="121.25" cy="381.96" r="3.2" fill="none" stroke="#ff2020" stroke-width="1.3"/>
<circle cx="145.8" cy="378.7" r="3.2" fill="none" stroke="#ff2020" stroke-width="1.3"/>
<circle cx="170.35" cy="373.87" r="3.2" fill="none" stroke="#ff2020" stroke-width="1.3"/>
<circle cx="194.9" cy="368.34" r="3.2" fill="none" stroke="#ff2020" stroke-width="1.3"/>
<circle cx="219.45" cy="364.09" r="3.2" fill="none" stroke="#ff2020" stroke-width="1.3"/>
<circle cx="244" cy="358.84" r="3.2" fill="none" stroke="#ff2020" stroke-width="1.3"/>
<circle cx="268.55" cy="352.75" r="3.2" fill="none" stroke="#ff2020" stroke-width="1.3"/>
<circle cx="293.1" cy="347.5" r="3.2" fill="none" stroke="#ff2020" stroke-width="1.3"/>
<circle cx="317.65" cy="343.25" r="3.2" fill="none" stroke="#ff2020" stroke-width="1.3"/>
<circle cx="342.2" cy="337.86" r="3.2" fill="none" stroke="#ff2020" stroke-width="1.3"/>
<text x="35" y="387.8" text-anchor="end" class="tl">0</text>
<text x="35" y="359.44" text-anchor="end" class="tl">2</text>
<text x="35" y="331.08" text-anchor="end" class="tl">4</text>
<text x="35" y="302.72" text-anchor="end" class="tl">6</text>
<text x="35" y="274.36" text-anchor="end" class="tl">8</text>
<text x="35" y="246" text-anchor="end" class="tl">10</text>
<text x="47.6" y="404.7" text-anchor="middle" class="tl">0</text>
<text x="145.8" y="404.7" text-anchor="middle" class="tl">20</text>
<text x="244" y="404.7" text-anchor="middle" class="tl">40</text>
<text x="342.2" y="404.7" text-anchor="middle" class="tl">60</text>
<text x="440.4" y="404.7" text-anchor="middle" class="tl">80</text>
<text x="538.6" y="404.7" text-anchor="middle" class="tl">100</text>
<text x="263.45" y="423.8" class="at">|</text>
<text x="268.45" y="423.8" class="at" font-style="italic">B</text>
<text x="275.65" y="426.2" class="sub">app</text>
<text x="290.15" y="423.8" class="at">|</text>
<text x="299.15" y="423.8" class="at" textLength="24.2" lengthAdjust="spacing">[mT]</text>
<g transform="translate(14.4,210.8) rotate(-90)"><text x="-150.3" y="0" class="at" font-style="italic">R</text><text x="-143.1" y="2.1" class="sub">dyn</text><line x1="-129.6" y1="1.2" x2="-124.1" y2="-9.4" stroke="#000" stroke-width="1.55"/><text x="-124.2" y="0" class="at" font-style="italic">L</text><text x="-114.2" y="0" class="at" textLength="59.4" lengthAdjust="spacing">[μΩ/m/Hz]</text></g>
<text x="1.5" y="225.5" class="pl">(b)</text>
<clipPath id="clipc"><rect x="47.6" y="450.5" width="490.9" height="145"/></clipPath>
<line x1="47.6" y1="586.9" x2="537.5" y2="586.9" stroke="#d0d0d0" stroke-width="1.3"/>
<line x1="47.6" y1="579.8" x2="537.5" y2="579.8" stroke="#d0d0d0" stroke-width="1.3"/>
<line x1="47.6" y1="572.7" x2="537.5" y2="572.7" stroke="#d0d0d0" stroke-width="1.3"/>
<line x1="47.6" y1="558.5" x2="537.5" y2="558.5" stroke="#d0d0d0" stroke-width="1.3"/>
<line x1="47.6" y1="551.4" x2="537.5" y2="551.4" stroke="#d0d0d0" stroke-width="1.3"/>
<line x1="47.6" y1="544.3" x2="537.5" y2="544.3" stroke="#d0d0d0" stroke-width="1.3"/>
<line x1="47.6" y1="530.1" x2="537.5" y2="530.1" stroke="#d0d0d0" stroke-width="1.3"/>
<line x1="47.6" y1="523" x2="537.5" y2="523" stroke="#d0d0d0" stroke-width="1.3"/>
<line x1="47.6" y1="515.9" x2="537.5" y2="515.9" stroke="#d0d0d0" stroke-width="1.3"/>
<line x1="47.6" y1="501.7" x2="537.5" y2="501.7" stroke="#d0d0d0" stroke-width="1.3"/>
<line x1="47.6" y1="494.6" x2="537.5" y2="494.6" stroke="#d0d0d0" stroke-width="1.3"/>
<line x1="47.6" y1="487.5" x2="537.5" y2="487.5" stroke="#d0d0d0" stroke-width="1.3"/>
<line x1="47.6" y1="473.3" x2="537.5" y2="473.3" stroke="#d0d0d0" stroke-width="1.3"/>
<line x1="47.6" y1="466.2" x2="537.5" y2="466.2" stroke="#d0d0d0" stroke-width="1.3"/>
<line x1="47.6" y1="459.1" x2="537.5" y2="459.1" stroke="#d0d0d0" stroke-width="1.3"/>
<line x1="47.6" y1="565.6" x2="537.5" y2="565.6" stroke="#3a3a3a" stroke-width="1.4"/>
<line x1="47.6" y1="537.2" x2="537.5" y2="537.2" stroke="#3a3a3a" stroke-width="1.4"/>
<line x1="47.6" y1="508.8" x2="537.5" y2="508.8" stroke="#3a3a3a" stroke-width="1.4"/>
<line x1="47.6" y1="480.4" x2="537.5" y2="480.4" stroke="#3a3a3a" stroke-width="1.4"/>
<line x1="96.59" y1="452" x2="96.59" y2="594" stroke="#d0d0d0" stroke-width="1.3"/>
<line x1="194.57" y1="452" x2="194.57" y2="594" stroke="#d0d0d0" stroke-width="1.3"/>
<line x1="292.55" y1="452" x2="292.55" y2="594" stroke="#d0d0d0" stroke-width="1.3"/>
<line x1="390.53" y1="452" x2="390.53" y2="594" stroke="#d0d0d0" stroke-width="1.3"/>
<line x1="488.51" y1="452" x2="488.51" y2="594" stroke="#d0d0d0" stroke-width="1.3"/>
<line x1="145.58" y1="452" x2="145.58" y2="594" stroke="#3a3a3a" stroke-width="1.4"/>
<line x1="243.56" y1="452" x2="243.56" y2="594" stroke="#3a3a3a" stroke-width="1.4"/>
<line x1="341.54" y1="452" x2="341.54" y2="594" stroke="#3a3a3a" stroke-width="1.4"/>
<line x1="439.52" y1="452" x2="439.52" y2="594" stroke="#3a3a3a" stroke-width="1.4"/>
<line x1="47.6" y1="586.9" x2="50.6" y2="586.9" stroke="#3a3a3a" stroke-width="1.3"/>
<line x1="47.6" y1="579.8" x2="50.6" y2="579.8" stroke="#3a3a3a" stroke-width="1.3"/>
<line x1="47.6" y1="572.7" x2="50.6" y2="572.7" stroke="#3a3a3a" stroke-width="1.3"/>
<line x1="47.6" y1="565.6" x2="50.6" y2="565.6" stroke="#3a3a3a" stroke-width="1.3"/>
<line x1="47.6" y1="558.5" x2="50.6" y2="558.5" stroke="#3a3a3a" stroke-width="1.3"/>
<line x1="47.6" y1="551.4" x2="50.6" y2="551.4" stroke="#3a3a3a" stroke-width="1.3"/>
<line x1="47.6" y1="544.3" x2="50.6" y2="544.3" stroke="#3a3a3a" stroke-width="1.3"/>
<line x1="47.6" y1="537.2" x2="50.6" y2="537.2" stroke="#3a3a3a" stroke-width="1.3"/>
<line x1="47.6" y1="530.1" x2="50.6" y2="530.1" stroke="#3a3a3a" stroke-width="1.3"/>
<line x1="47.6" y1="523" x2="50.6" y2="523" stroke="#3a3a3a" stroke-width="1.3"/>
<line x1="47.6" y1="515.9" x2="50.6" y2="515.9" stroke="#3a3a3a" stroke-width="1.3"/>
<line x1="47.6" y1="508.8" x2="50.6" y2="508.8" stroke="#3a3a3a" stroke-width="1.3"/>
<line x1="47.6" y1="501.7" x2="50.6" y2="501.7" stroke="#3a3a3a" stroke-width="1.3"/>
<line x1="47.6" y1="494.6" x2="50.6" y2="494.6" stroke="#3a3a3a" stroke-width="1.3"/>
<line x1="47.6" y1="487.5" x2="50.6" y2="487.5" stroke="#3a3a3a" stroke-width="1.3"/>
<line x1="47.6" y1="480.4" x2="50.6" y2="480.4" stroke="#3a3a3a" stroke-width="1.3"/>
<line x1="47.6" y1="473.3" x2="50.6" y2="473.3" stroke="#3a3a3a" stroke-width="1.3"/>
<line x1="47.6" y1="466.2" x2="50.6" y2="466.2" stroke="#3a3a3a" stroke-width="1.3"/>
<line x1="47.6" y1="459.1" x2="50.6" y2="459.1" stroke="#3a3a3a" stroke-width="1.3"/>
<line x1="96.59" y1="594" x2="96.59" y2="591" stroke="#3a3a3a" stroke-width="1.3"/>
<line x1="194.57" y1="594" x2="194.57" y2="591" stroke="#3a3a3a" stroke-width="1.3"/>
<line x1="292.55" y1="594" x2="292.55" y2="591" stroke="#3a3a3a" stroke-width="1.3"/>
<line x1="390.53" y1="594" x2="390.53" y2="591" stroke="#3a3a3a" stroke-width="1.3"/>
<line x1="488.51" y1="594" x2="488.51" y2="591" stroke="#3a3a3a" stroke-width="1.3"/>
<rect x="47.6" y="452" width="489.9" height="142" fill="none" stroke="#3a3a3a" stroke-width="1.5"/>
<g clip-path="url(#clipc)" fill="none">
<polyline points="72.09,594 76.99,593.56 81.89,593.1 86.79,592.62 91.69,592.11 96.59,591.59 101.49,591.05 106.39,590.48 111.29,589.9 116.19,589.27 121.09,588.6 125.98,587.88 130.88,587.09 135.78,586.26 140.68,585.39 145.58,584.49 150.48,583.54 155.38,582.54 160.28,581.5 165.18,580.44 170.07,579.37 174.97,578.29 179.87,577.18 184.77,576.05 189.67,574.93 194.57,573.84 199.47,572.77 204.37,571.71 209.27,570.66 214.17,569.62 219.06,568.58 223.96,567.55 228.86,566.52 233.76,565.49 238.66,564.48 243.56,563.47 248.46,562.47 253.36,561.48 258.26,560.49 263.16,559.51 268.06,558.53 272.95,557.56 277.85,556.59 282.75,555.62 287.65,554.64 292.55,553.67 297.45,552.7 302.35,551.74 307.25,550.78 312.15,549.83 317.05,548.87 321.94,547.91 326.84,546.95 331.74,545.98 336.64,545 341.54,544.02 346.44,543.02 351.34,542.02 356.24,541.01 361.14,539.99 366.04,538.98 370.93,537.95 375.83,536.92 380.73,535.88 385.63,534.84 390.53,533.79 395.43,532.74 400.33,531.67 405.23,530.59 410.13,529.51 415.02,528.42 419.92,527.33 424.82,526.25 429.72,525.16 434.62,524.08 439.52,523 444.42,521.93 449.32,520.86 454.22,519.79 459.12,518.73 464.01,517.67 468.91,516.6 473.81,515.54 478.71,514.48 483.61,513.41 488.51,512.35 493.41,511.28 498.31,510.22 503.21,509.16 508.11,508.09 513,507.02 517.9,505.96 522.8,504.89 527.7,503.83 532.6,502.76 537.5,501.7" stroke="#00b050" stroke-width="2.4" stroke-linejoin="round"/>
<polyline points="72.09,594 76.99,593.66 81.89,593.28 86.79,592.88 91.69,592.46 96.59,592.01 101.49,591.54 106.39,591.05 111.29,590.51 116.19,589.94 121.09,589.31 125.98,588.61 130.88,587.83 135.78,586.98 140.68,586.1 145.58,585.2 150.48,584.27 155.38,583.29 160.28,582.29 165.18,581.26 170.07,580.23 174.97,579.17 179.87,578.09 184.77,577 189.67,575.91 194.57,574.83 199.47,573.77 204.37,572.71 209.27,571.66 214.17,570.62 219.06,569.58 223.96,568.54 228.86,567.5 233.76,566.47 238.66,565.45 243.56,564.46 248.46,563.5 253.36,562.55 258.26,561.61 263.16,560.69 268.06,559.77 272.95,558.87 277.85,557.96 282.75,557.05 287.65,556.15 292.55,555.23 297.45,554.32 302.35,553.41 307.25,552.5 312.15,551.59 317.05,550.68 321.94,549.77 326.84,548.87 331.74,547.96 336.64,547.05 341.54,546.15 346.44,545.25 351.34,544.36 356.24,543.49 361.14,542.61 366.04,541.74 370.93,540.85 375.83,539.94 380.73,539.01 385.63,538.05 390.53,537.06 395.43,536.01 400.33,534.9 405.23,533.75 410.13,532.56 415.02,531.36 419.92,530.15 424.82,528.96 429.72,527.78 434.62,526.64 439.52,525.56 444.42,524.51 449.32,523.49 454.22,522.49 459.12,521.51 464.01,520.54 468.91,519.58 473.81,518.63 478.71,517.67 483.61,516.72 488.51,515.76 493.41,514.79 498.31,513.83 503.21,512.87 508.11,511.92 513,510.97 517.9,510.02 522.8,509.07 527.7,508.12 532.6,507.18 537.5,506.24" stroke="#0070c0" stroke-width="2.4" stroke-linejoin="round"/>
<polyline points="72.09,594 76.99,593.69 81.89,593.37 86.79,593.03 91.69,592.67 96.59,592.3 101.49,591.92 106.39,591.55 111.29,591.14 116.19,590.69 121.09,590.17 125.98,589.5 130.88,588.69 135.78,587.78 140.68,586.83 145.58,585.91 150.48,585 155.38,584.08 160.28,583.14 165.18,582.18 170.07,581.22 174.97,580.24 179.87,579.25 184.77,578.25 189.67,577.25 194.57,576.25 199.47,575.25 204.37,574.25 209.27,573.25 214.17,572.26 219.06,571.28 223.96,570.33 228.86,569.39 233.76,568.46 238.66,567.53 243.56,566.59 248.46,565.65 253.36,564.69 258.26,563.73 263.16,562.76 268.06,561.8 272.95,560.84 277.85,559.88 282.75,558.94 287.65,558 292.55,557.08 297.45,556.17 302.35,555.27 307.25,554.37 312.15,553.49 317.05,552.61 321.94,551.73 326.84,550.86 331.74,550 336.64,549.14 341.54,548.28 346.44,547.43 351.34,546.6 356.24,545.79 361.14,544.99 366.04,544.18 370.93,543.37 375.83,542.54 380.73,541.69 385.63,540.81 390.53,539.9 395.43,538.94 400.33,537.93 405.23,536.88 410.13,535.81 415.02,534.72 419.92,533.62 424.82,532.53 429.72,531.45 434.62,530.4 439.52,529.39 444.42,528.41 449.32,527.46 454.22,526.52 459.12,525.6 464.01,524.68 468.91,523.76 473.81,522.85 478.71,521.92 483.61,520.98 488.51,520.02 493.41,519.04 498.31,518.06 503.21,517.07 508.11,516.07 513,515.07 517.9,514.06 522.8,513.04 527.7,512.01 532.6,510.98 537.5,509.94" stroke="#ff0000" stroke-width="2.4" stroke-linejoin="round"/>
<polyline points="72.09,594 76.99,593.08 81.89,592.17 86.79,591.26 91.69,590.35 96.59,589.46 101.49,588.55 106.39,587.65 111.29,586.75 116.19,585.88 121.09,585.05 125.98,584.29 130.88,583.59 135.78,582.89 140.68,582.17 145.58,581.36 150.48,580.45 155.38,579.44 160.28,578.38 165.18,577.31 170.07,576.25 174.97,575.21 179.87,574.18 184.77,573.13 189.67,572.08 194.57,571 199.47,569.89 204.37,568.76 209.27,567.61 214.17,566.46 219.06,565.32 223.96,564.17 228.86,563.01 233.76,561.86 238.66,560.73 243.56,559.64 248.46,558.59 253.36,557.57 258.26,556.59 263.16,555.62 268.06,554.66 272.95,553.7 277.85,552.73 282.75,551.75 287.65,550.74 292.55,549.7 297.45,548.62 302.35,547.53 307.25,546.41 312.15,545.27 317.05,544.13 321.94,542.97 326.84,541.81 331.74,540.65 336.64,539.49 341.54,538.34 346.44,537.19 351.34,536.05 356.24,534.91 361.14,533.76 366.04,532.62 370.93,531.46 375.83,530.29 380.73,529.11 385.63,527.91 390.53,526.69 395.43,525.46 400.33,524.21 405.23,522.95 410.13,521.67 415.02,520.38 419.92,519.08 424.82,517.75 429.72,516.4 434.62,515.03 439.52,513.63 444.42,512.21 449.32,510.77 454.22,509.31 459.12,507.83 464.01,506.32 468.91,504.78 473.81,503.21 478.71,501.61 483.61,499.97 488.51,498.29 493.41,496.57 498.31,494.81 503.21,493 508.11,491.15 513,489.26 517.9,487.34 522.8,485.37 527.7,483.37 532.6,481.33 537.5,479.26" stroke="#00b050" stroke-width="2.4" stroke-linecap="round" stroke-dasharray="0.01 4.5"/>
<polyline points="72.09,594 76.99,593.28 81.89,592.56 86.79,591.82 91.69,591.07 96.59,590.31 101.49,589.53 106.39,588.72 111.29,587.92 116.19,587.11 121.09,586.33 125.98,585.59 130.88,584.89 135.78,584.18 140.68,583.44 145.58,582.64 150.48,581.74 155.38,580.77 160.28,579.75 165.18,578.71 170.07,577.67 174.97,576.64 179.87,575.6 184.77,574.54 189.67,573.48 194.57,572.42 199.47,571.35 204.37,570.27 209.27,569.19 214.17,568.1 219.06,567.02 223.96,565.94 228.86,564.85 233.76,563.76 238.66,562.69 243.56,561.62 248.46,560.58 253.36,559.54 258.26,558.51 263.16,557.49 268.06,556.47 272.95,555.46 277.85,554.45 282.75,553.43 287.65,552.42 292.55,551.4 297.45,550.38 302.35,549.36 307.25,548.35 312.15,547.33 317.05,546.31 321.94,545.3 326.84,544.27 331.74,543.25 336.64,542.22 341.54,541.18 346.44,540.14 351.34,539.11 356.24,538.08 361.14,537.05 366.04,536.01 370.93,534.96 375.83,533.89 380.73,532.8 385.63,531.68 390.53,530.53 395.43,529.32 400.33,528.05 405.23,526.74 410.13,525.4 415.02,524.04 419.92,522.67 424.82,521.32 429.72,519.99 434.62,518.7 439.52,517.46 444.42,516.27 449.32,515.12 454.22,513.99 459.12,512.89 464.01,511.79 468.91,510.7 473.81,509.61 478.71,508.5 483.61,507.39 488.51,506.24 493.41,505.08 498.31,503.92 503.21,502.74 508.11,501.56 513,500.37 517.9,499.17 522.8,497.97 527.7,496.76 532.6,495.54 537.5,494.32" stroke="#0070c0" stroke-width="2.4" stroke-linecap="round" stroke-dasharray="0.01 4.5"/>
<polyline points="72.09,594 76.99,593.49 81.89,592.95 86.79,592.38 91.69,591.78 96.59,591.16 101.49,590.5 106.39,589.81 111.29,589.09 116.19,588.35 121.09,587.61 125.98,586.88 130.88,586.15 135.78,585.39 140.68,584.61 145.58,583.78 150.48,582.87 155.38,581.9 160.28,580.88 165.18,579.85 170.07,578.81 174.97,577.75 179.87,576.67 184.77,575.58 189.67,574.49 194.57,573.41 199.47,572.34 204.37,571.28 209.27,570.22 214.17,569.18 219.06,568.16 223.96,567.17 228.86,566.2 233.76,565.24 238.66,564.29 243.56,563.33 248.46,562.35 253.36,561.37 258.26,560.39 263.16,559.41 268.06,558.42 272.95,557.44 277.85,556.45 282.75,555.47 287.65,554.5 292.55,553.53 297.45,552.57 302.35,551.62 307.25,550.67 312.15,549.73 317.05,548.79 321.94,547.85 326.84,546.9 331.74,545.95 336.64,544.99 341.54,544.02 346.44,543.04 351.34,542.07 356.24,541.09 361.14,540.11 366.04,539.12 370.93,538.13 375.83,537.11 380.73,536.08 385.63,535.02 390.53,533.93 395.43,532.81 400.33,531.65 405.23,530.45 410.13,529.23 415.02,527.99 419.92,526.74 424.82,525.5 429.72,524.27 434.62,523.05 439.52,521.86 444.42,520.69 449.32,519.53 454.22,518.36 459.12,517.21 464.01,516.06 468.91,514.92 473.81,513.79 478.71,512.68 483.61,511.58 488.51,510.5 493.41,509.44 498.31,508.39 503.21,507.35 508.11,506.32 513,505.31 517.9,504.31 522.8,503.31 527.7,502.34 532.6,501.37 537.5,500.42" stroke="#ff0000" stroke-width="2.4" stroke-linecap="round" stroke-dasharray="0.01 4.5"/>
</g>
<rect x="68.89" y="590.52" width="6.4" height="6.4" fill="none" stroke="#4bacc6" stroke-width="1.15"/>
<rect x="93.39" y="589.38" width="6.4" height="6.4" fill="none" stroke="#4bacc6" stroke-width="1.15"/>
<rect x="117.89" y="586.11" width="6.4" height="6.4" fill="none" stroke="#4bacc6" stroke-width="1.15"/>
<rect x="142.38" y="581.85" width="6.4" height="6.4" fill="none" stroke="#4bacc6" stroke-width="1.15"/>
<rect x="166.88" y="576.17" width="6.4" height="6.4" fill="none" stroke="#4bacc6" stroke-width="1.15"/>
<rect x="191.37" y="571.91" width="6.4" height="6.4" fill="none" stroke="#4bacc6" stroke-width="1.15"/>
<rect x="215.86" y="565.67" width="6.4" height="6.4" fill="none" stroke="#4bacc6" stroke-width="1.15"/>
<rect x="240.36" y="560.41" width="6.4" height="6.4" fill="none" stroke="#4bacc6" stroke-width="1.15"/>
<rect x="264.86" y="555.02" width="6.4" height="6.4" fill="none" stroke="#4bacc6" stroke-width="1.15"/>
<rect x="289.35" y="550.61" width="6.4" height="6.4" fill="none" stroke="#4bacc6" stroke-width="1.15"/>
<rect x="313.85" y="545.22" width="6.4" height="6.4" fill="none" stroke="#4bacc6" stroke-width="1.15"/>
<rect x="338.34" y="540.39" width="6.4" height="6.4" fill="none" stroke="#4bacc6" stroke-width="1.15"/>
<path d="M72.09,590.92 L74.89,596.32 L69.3,596.32 Z" fill="none" stroke="#00b050" stroke-width="1.15"/>
<path d="M96.59,589.78 L99.39,595.18 L93.79,595.18 Z" fill="none" stroke="#00b050" stroke-width="1.15"/>
<path d="M121.09,586.51 L123.89,591.91 L118.29,591.91 Z" fill="none" stroke="#00b050" stroke-width="1.15"/>
<path d="M145.58,582.25 L148.38,587.65 L142.78,587.65 Z" fill="none" stroke="#00b050" stroke-width="1.15"/>
<path d="M170.07,576.57 L172.88,581.97 L167.27,581.97 Z" fill="none" stroke="#00b050" stroke-width="1.15"/>
<path d="M194.57,572.31 L197.37,577.71 L191.77,577.71 Z" fill="none" stroke="#00b050" stroke-width="1.15"/>
<path d="M219.06,566.07 L221.86,571.47 L216.26,571.47 Z" fill="none" stroke="#00b050" stroke-width="1.15"/>
<path d="M243.56,560.81 L246.36,566.21 L240.76,566.21 Z" fill="none" stroke="#00b050" stroke-width="1.15"/>
<path d="M268.06,555.42 L270.86,560.82 L265.25,560.82 Z" fill="none" stroke="#00b050" stroke-width="1.15"/>
<path d="M292.55,551.01 L295.35,556.41 L289.75,556.41 Z" fill="none" stroke="#00b050" stroke-width="1.15"/>
<path d="M317.05,545.62 L319.85,551.02 L314.25,551.02 Z" fill="none" stroke="#00b050" stroke-width="1.15"/>
<path d="M341.54,540.79 L344.34,546.19 L338.74,546.19 Z" fill="none" stroke="#00b050" stroke-width="1.15"/>
<path d="M366.04,536.53 L368.84,541.93 L363.24,541.93 Z" fill="none" stroke="#00b050" stroke-width="1.15"/>
<path d="M390.53,530.57 L393.33,535.97 L387.73,535.97 Z" fill="none" stroke="#00b050" stroke-width="1.15"/>
<path d="M415.02,524.46 L417.82,529.86 L412.22,529.86 Z" fill="none" stroke="#00b050" stroke-width="1.15"/>
<path d="M439.52,519.49 L442.32,524.89 L436.72,524.89 Z" fill="none" stroke="#00b050" stroke-width="1.15"/>
<path d="M464.01,512.96 L466.81,518.36 L461.21,518.36 Z" fill="none" stroke="#00b050" stroke-width="1.15"/>
<path d="M488.51,507.28 L491.31,512.68 L485.71,512.68 Z" fill="none" stroke="#00b050" stroke-width="1.15"/>
<path d="M513,501.17 L515.8,506.57 L510.2,506.57 Z" fill="none" stroke="#00b050" stroke-width="1.15"/>
<path d="M537.5,493.93 L540.3,499.33 L534.7,499.33 Z" fill="none" stroke="#00b050" stroke-width="1.15"/>
<circle cx="72.09" cy="593.72" r="3.2" fill="none" stroke="#ff2020" stroke-width="1.3"/>
<circle cx="96.59" cy="592.58" r="3.2" fill="none" stroke="#ff2020" stroke-width="1.3"/>
<circle cx="121.09" cy="589.31" r="3.2" fill="none" stroke="#ff2020" stroke-width="1.3"/>
<circle cx="145.58" cy="585.05" r="3.2" fill="none" stroke="#ff2020" stroke-width="1.3"/>
<circle cx="170.07" cy="579.37" r="3.2" fill="none" stroke="#ff2020" stroke-width="1.3"/>
<circle cx="194.57" cy="575.11" r="3.2" fill="none" stroke="#ff2020" stroke-width="1.3"/>
<circle cx="219.06" cy="568.87" r="3.2" fill="none" stroke="#ff2020" stroke-width="1.3"/>
<circle cx="243.56" cy="563.61" r="3.2" fill="none" stroke="#ff2020" stroke-width="1.3"/>
<circle cx="268.06" cy="558.22" r="3.2" fill="none" stroke="#ff2020" stroke-width="1.3"/>
<text x="35" y="598" text-anchor="end" class="tl">0</text>
<text x="35" y="569.6" text-anchor="end" class="tl">2</text>
<text x="35" y="541.2" text-anchor="end" class="tl">4</text>
<text x="35" y="512.8" text-anchor="end" class="tl">6</text>
<text x="35" y="484.4" text-anchor="end" class="tl">8</text>
<text x="35" y="456" text-anchor="end" class="tl">10</text>
<text x="47.6" y="614.9" text-anchor="middle" class="tl">0</text>
<text x="145.58" y="614.9" text-anchor="middle" class="tl">20</text>
<text x="243.56" y="614.9" text-anchor="middle" class="tl">40</text>
<text x="341.54" y="614.9" text-anchor="middle" class="tl">60</text>
<text x="439.52" y="614.9" text-anchor="middle" class="tl">80</text>
<text x="537.5" y="614.9" text-anchor="middle" class="tl">100</text>
<text x="262.9" y="634" class="at">|</text>
<text x="267.9" y="634" class="at" font-style="italic">B</text>
<text x="275.1" y="636.4" class="sub">app</text>
<text x="289.6" y="634" class="at">|</text>
<text x="298.6" y="634" class="at" textLength="24.2" lengthAdjust="spacing">[mT]</text>
<g transform="translate(14.4,420.9) rotate(-90)"><text x="-150.3" y="0" class="at" font-style="italic">R</text><text x="-143.1" y="2.1" class="sub">dyn</text><line x1="-129.6" y1="1.2" x2="-124.1" y2="-9.4" stroke="#000" stroke-width="1.55"/><text x="-124.2" y="0" class="at" font-style="italic">L</text><text x="-114.2" y="0" class="at" textLength="59.4" lengthAdjust="spacing">[μΩ/m/Hz]</text></g>
<text x="1.5" y="435.5" class="pl">(c)</text>
<clipPath id="clipd"><rect x="47.6" y="662.5" width="491.9" height="145.2"/></clipPath>
<line x1="47.6" y1="799.09" x2="538.5" y2="799.09" stroke="#d0d0d0" stroke-width="1.3"/>
<line x1="47.6" y1="791.98" x2="538.5" y2="791.98" stroke="#d0d0d0" stroke-width="1.3"/>
<line x1="47.6" y1="784.87" x2="538.5" y2="784.87" stroke="#d0d0d0" stroke-width="1.3"/>
<line x1="47.6" y1="770.65" x2="538.5" y2="770.65" stroke="#d0d0d0" stroke-width="1.3"/>
<line x1="47.6" y1="763.54" x2="538.5" y2="763.54" stroke="#d0d0d0" stroke-width="1.3"/>
<line x1="47.6" y1="756.43" x2="538.5" y2="756.43" stroke="#d0d0d0" stroke-width="1.3"/>
<line x1="47.6" y1="742.21" x2="538.5" y2="742.21" stroke="#d0d0d0" stroke-width="1.3"/>
<line x1="47.6" y1="735.1" x2="538.5" y2="735.1" stroke="#d0d0d0" stroke-width="1.3"/>
<line x1="47.6" y1="727.99" x2="538.5" y2="727.99" stroke="#d0d0d0" stroke-width="1.3"/>
<line x1="47.6" y1="713.77" x2="538.5" y2="713.77" stroke="#d0d0d0" stroke-width="1.3"/>
<line x1="47.6" y1="706.66" x2="538.5" y2="706.66" stroke="#d0d0d0" stroke-width="1.3"/>
<line x1="47.6" y1="699.55" x2="538.5" y2="699.55" stroke="#d0d0d0" stroke-width="1.3"/>
<line x1="47.6" y1="685.33" x2="538.5" y2="685.33" stroke="#d0d0d0" stroke-width="1.3"/>
<line x1="47.6" y1="678.22" x2="538.5" y2="678.22" stroke="#d0d0d0" stroke-width="1.3"/>
<line x1="47.6" y1="671.11" x2="538.5" y2="671.11" stroke="#d0d0d0" stroke-width="1.3"/>
<line x1="47.6" y1="777.76" x2="538.5" y2="777.76" stroke="#3a3a3a" stroke-width="1.4"/>
<line x1="47.6" y1="749.32" x2="538.5" y2="749.32" stroke="#3a3a3a" stroke-width="1.4"/>
<line x1="47.6" y1="720.88" x2="538.5" y2="720.88" stroke="#3a3a3a" stroke-width="1.4"/>
<line x1="47.6" y1="692.44" x2="538.5" y2="692.44" stroke="#3a3a3a" stroke-width="1.4"/>
<line x1="96.69" y1="664" x2="96.69" y2="806.2" stroke="#d0d0d0" stroke-width="1.3"/>
<line x1="194.87" y1="664" x2="194.87" y2="806.2" stroke="#d0d0d0" stroke-width="1.3"/>
<line x1="293.05" y1="664" x2="293.05" y2="806.2" stroke="#d0d0d0" stroke-width="1.3"/>
<line x1="391.23" y1="664" x2="391.23" y2="806.2" stroke="#d0d0d0" stroke-width="1.3"/>
<line x1="489.41" y1="664" x2="489.41" y2="806.2" stroke="#d0d0d0" stroke-width="1.3"/>
<line x1="145.78" y1="664" x2="145.78" y2="806.2" stroke="#3a3a3a" stroke-width="1.4"/>
<line x1="243.96" y1="664" x2="243.96" y2="806.2" stroke="#3a3a3a" stroke-width="1.4"/>
<line x1="342.14" y1="664" x2="342.14" y2="806.2" stroke="#3a3a3a" stroke-width="1.4"/>
<line x1="440.32" y1="664" x2="440.32" y2="806.2" stroke="#3a3a3a" stroke-width="1.4"/>
<line x1="47.6" y1="799.09" x2="50.6" y2="799.09" stroke="#3a3a3a" stroke-width="1.3"/>
<line x1="47.6" y1="791.98" x2="50.6" y2="791.98" stroke="#3a3a3a" stroke-width="1.3"/>
<line x1="47.6" y1="784.87" x2="50.6" y2="784.87" stroke="#3a3a3a" stroke-width="1.3"/>
<line x1="47.6" y1="777.76" x2="50.6" y2="777.76" stroke="#3a3a3a" stroke-width="1.3"/>
<line x1="47.6" y1="770.65" x2="50.6" y2="770.65" stroke="#3a3a3a" stroke-width="1.3"/>
<line x1="47.6" y1="763.54" x2="50.6" y2="763.54" stroke="#3a3a3a" stroke-width="1.3"/>
<line x1="47.6" y1="756.43" x2="50.6" y2="756.43" stroke="#3a3a3a" stroke-width="1.3"/>
<line x1="47.6" y1="749.32" x2="50.6" y2="749.32" stroke="#3a3a3a" stroke-width="1.3"/>
<line x1="47.6" y1="742.21" x2="50.6" y2="742.21" stroke="#3a3a3a" stroke-width="1.3"/>
<line x1="47.6" y1="735.1" x2="50.6" y2="735.1" stroke="#3a3a3a" stroke-width="1.3"/>
<line x1="47.6" y1="727.99" x2="50.6" y2="727.99" stroke="#3a3a3a" stroke-width="1.3"/>
<line x1="47.6" y1="720.88" x2="50.6" y2="720.88" stroke="#3a3a3a" stroke-width="1.3"/>
<line x1="47.6" y1="713.77" x2="50.6" y2="713.77" stroke="#3a3a3a" stroke-width="1.3"/>
<line x1="47.6" y1="706.66" x2="50.6" y2="706.66" stroke="#3a3a3a" stroke-width="1.3"/>
<line x1="47.6" y1="699.55" x2="50.6" y2="699.55" stroke="#3a3a3a" stroke-width="1.3"/>
<line x1="47.6" y1="692.44" x2="50.6" y2="692.44" stroke="#3a3a3a" stroke-width="1.3"/>
<line x1="47.6" y1="685.33" x2="50.6" y2="685.33" stroke="#3a3a3a" stroke-width="1.3"/>
<line x1="47.6" y1="678.22" x2="50.6" y2="678.22" stroke="#3a3a3a" stroke-width="1.3"/>
<line x1="47.6" y1="671.11" x2="50.6" y2="671.11" stroke="#3a3a3a" stroke-width="1.3"/>
<line x1="96.69" y1="806.2" x2="96.69" y2="803.2" stroke="#3a3a3a" stroke-width="1.3"/>
<line x1="194.87" y1="806.2" x2="194.87" y2="803.2" stroke="#3a3a3a" stroke-width="1.3"/>
<line x1="293.05" y1="806.2" x2="293.05" y2="803.2" stroke="#3a3a3a" stroke-width="1.3"/>
<line x1="391.23" y1="806.2" x2="391.23" y2="803.2" stroke="#3a3a3a" stroke-width="1.3"/>
<line x1="489.41" y1="806.2" x2="489.41" y2="803.2" stroke="#3a3a3a" stroke-width="1.3"/>
<rect x="47.6" y="664" width="490.9" height="142.2" fill="none" stroke="#3a3a3a" stroke-width="1.5"/>
<g clip-path="url(#clipd)" fill="none">
<polyline points="72.15,805.35 77.05,804.63 81.96,803.9 86.87,803.16 91.78,802.41 96.69,801.65 101.6,800.88 106.51,800.11 111.42,799.32 116.33,798.51 121.23,797.67 126.14,796.78 131.05,795.86 135.96,794.91 140.87,793.94 145.78,792.98 150.69,792 155.6,791.01 160.51,790 165.42,789 170.32,788 175.23,787.01 180.14,786.02 185.05,785.03 189.96,784.03 194.87,783.02 199.78,781.99 204.69,780.96 209.6,779.91 214.51,778.84 219.41,777.76 224.32,776.64 229.23,775.48 234.14,774.31 239.05,773.17 243.96,772.07 248.87,771.04 253.78,770.05 258.69,769.07 263.6,768.1 268.5,767.1 273.41,766.08 278.32,765.07 283.23,764.03 288.14,762.96 293.05,761.83 297.96,760.61 302.87,759.31 307.78,757.96 312.69,756.6 317.6,755.29 322.5,754.04 327.41,752.83 332.32,751.61 337.23,750.36 342.14,749.04 347.05,747.65 351.96,746.22 356.87,744.73 361.78,743.16 366.69,741.5 371.59,739.75 376.5,737.91 381.41,735.95 386.32,733.83 391.23,731.55 396.14,728.97 401.05,726.08 405.96,722.99 410.87,719.8 415.77,716.61 420.68,713.51 425.59,710.42 430.5,707.21 435.41,703.77 440.32,699.98 445.23,695.61 450.14,690.68 455.05,685.4 459.96,679.99 464.87,674.66 469.77,669.35 474.68,664 479.59,658.74 484.5,653.53 489.41,648.36" stroke="#00b050" stroke-width="2.4" stroke-linejoin="round"/>
<polyline points="72.15,805.35 77.05,804.66 81.96,803.96 86.87,803.25 91.78,802.52 96.69,801.79 101.6,801.05 106.51,800.31 111.42,799.55 116.33,798.77 121.23,797.95 126.14,797.1 131.05,796.2 135.96,795.28 140.87,794.34 145.78,793.4 150.69,792.45 155.6,791.49 160.51,790.52 165.42,789.54 170.32,788.57 175.23,787.6 180.14,786.63 185.05,785.67 189.96,784.7 194.87,783.73 199.78,782.77 204.69,781.81 209.6,780.85 214.51,779.88 219.41,778.9 224.32,777.89 229.23,776.86 234.14,775.82 239.05,774.79 243.96,773.78 248.87,772.8 253.78,771.83 258.69,770.87 263.6,769.92 268.5,768.94 273.41,767.95 278.32,766.95 283.23,765.94 288.14,764.95 293.05,763.97 297.96,763.01 302.87,762.06 307.78,761.13 312.69,760.2 317.6,759.27 322.5,758.37 327.41,757.48 332.32,756.59 337.23,755.68 342.14,754.72 347.05,753.71 351.96,752.65 356.87,751.56 361.78,750.45 366.69,749.32 371.59,748.19 376.5,747.04 381.41,745.86 386.32,744.64 391.23,743.35 396.14,741.97 401.05,740.5 405.96,738.98 410.87,737.41 415.77,735.81 420.68,734.21 425.59,732.58 430.5,730.89 435.41,729.14 440.32,727.28 445.23,725.29 450.14,723.18 455.05,720.96 459.96,718.67 464.87,716.33 469.77,713.93 474.68,711.44 479.59,708.87 484.5,706.23 489.41,703.53 494.32,700.74 499.23,697.85 504.14,694.9 509.05,691.9 513.95,688.88 518.86,685.85 523.77,682.79 528.68,679.69 533.59,676.55 538.5,673.39" stroke="#0070c0" stroke-width="2.4" stroke-linejoin="round"/>
<polyline points="72.15,805.35 77.05,804.69 81.96,804.02 86.87,803.33 91.78,802.64 96.69,801.93 101.6,801.22 106.51,800.5 111.42,799.77 116.33,799.01 121.23,798.24 126.14,797.43 131.05,796.6 135.96,795.74 140.87,794.87 145.78,793.97 150.69,793.04 155.6,792.07 160.51,791.08 165.42,790.09 170.32,789.14 175.23,788.2 180.14,787.28 185.05,786.37 189.96,785.47 194.87,784.59 199.78,783.71 204.69,782.85 209.6,781.99 214.51,781.15 219.41,780.32 224.32,779.52 229.23,778.75 234.14,777.98 239.05,777.19 243.96,776.34 248.87,775.41 253.78,774.43 258.69,773.4 263.6,772.37 268.5,771.36 273.41,770.36 278.32,769.35 283.23,768.34 288.14,767.35 293.05,766.38 297.96,765.45 302.87,764.53 307.78,763.63 312.69,762.74 317.6,761.83 322.5,760.93 327.41,760.04 332.32,759.14 337.23,758.23 342.14,757.28 347.05,756.3 351.96,755.29 356.87,754.26 361.78,753.22 366.69,752.16 371.59,751.1 376.5,750.02 381.41,748.93 386.32,747.84 391.23,746.76 396.14,745.71 401.05,744.68 405.96,743.64 410.87,742.59 415.77,741.5 420.68,740.37 425.59,739.2 430.5,738.01 435.41,736.78 440.32,735.53 445.23,734.23 450.14,732.88 455.05,731.5 459.96,730.11 464.87,728.7 469.77,727.3 474.68,725.88 479.59,724.45 484.5,722.97 489.41,721.45 494.32,719.86 499.23,718.21 504.14,716.51 509.05,714.79 513.95,713.06 518.86,711.31 523.77,709.55 528.68,707.75 533.59,705.94 538.5,704.1" stroke="#ff0000" stroke-width="2.4" stroke-linejoin="round"/>
<polyline points="72.15,805.35 77.05,804.56 81.96,803.74 86.87,802.88 91.78,802 96.69,801.08 101.6,800.13 106.51,799.14 111.42,798.12 116.33,797.06 121.23,795.96 126.14,794.79 131.05,793.53 135.96,792.25 140.87,791.01 145.78,789.85 150.69,788.79 155.6,787.8 160.51,786.83 165.42,785.87 170.32,784.87 175.23,783.85 180.14,782.82 185.05,781.78 189.96,780.72 194.87,779.61 199.78,778.46 204.69,777.29 209.6,776.08 214.51,774.81 219.41,773.49 224.32,772.14 229.23,770.75 234.14,769.29 239.05,767.7 243.96,765.96 248.87,763.99 253.78,761.78 258.69,759.38 263.6,756.82 268.5,754.15 273.41,751.35 278.32,748.36 283.23,745.17 288.14,741.8 293.05,738.23 297.96,734.47 302.87,730.49 307.78,726.22 312.69,721.62 317.6,716.61 322.5,710.75 327.41,704.19 332.32,697.75 337.23,691.54 342.14,684.62 347.05,676.22 351.96,666.56 356.87,655.47" stroke="#00b050" stroke-width="2.4" stroke-linecap="round" stroke-dasharray="0.01 4.5"/>
<polyline points="72.15,805.35 77.05,804.58 81.96,803.8 86.87,803.01 91.78,802.19 96.69,801.37 101.6,800.52 106.51,799.66 111.42,798.78 116.33,797.88 121.23,796.96 126.14,796.01 131.05,795.03 135.96,794.03 140.87,793.01 145.78,791.98 150.69,790.93 155.6,789.84 160.51,788.75 165.42,787.66 170.32,786.58 175.23,785.52 180.14,784.46 185.05,783.41 189.96,782.37 194.87,781.32 199.78,780.27 204.69,779.23 209.6,778.19 214.51,777.13 219.41,776.05 224.32,774.96 229.23,773.86 234.14,772.74 239.05,771.58 243.96,770.37 248.87,769.08 253.78,767.72 258.69,766.32 263.6,764.92 268.5,763.54 273.41,762.25 278.32,761.02 283.23,759.76 288.14,758.4 293.05,756.86 297.96,755.04 302.87,752.97 307.78,750.7 312.69,748.28 317.6,745.76 322.5,743.08 327.41,740.17 332.32,737.12 337.23,733.98 342.14,730.83 347.05,727.77 351.96,724.72 356.87,721.58 361.78,718.21 366.69,714.48 371.59,710.28 376.5,705.61 381.41,700.56 386.32,695.2 391.23,689.6 396.14,683.64 401.05,677.21 405.96,670.4 410.87,663.27 415.77,655.47" stroke="#0070c0" stroke-width="2.4" stroke-linecap="round" stroke-dasharray="0.01 4.5"/>
<polyline points="72.15,805.35 77.05,804.6 81.96,803.84 86.87,803.08 91.78,802.3 96.69,801.51 101.6,800.71 106.51,799.9 111.42,799.09 116.33,798.25 121.23,797.38 126.14,796.49 131.05,795.56 135.96,794.62 140.87,793.66 145.78,792.69 150.69,791.72 155.6,790.73 160.51,789.73 165.42,788.72 170.32,787.71 175.23,786.69 180.14,785.66 185.05,784.63 189.96,783.6 194.87,782.59 199.78,781.61 204.69,780.65 209.6,779.7 214.51,778.74 219.41,777.76 224.32,776.77 229.23,775.77 234.14,774.76 239.05,773.72 243.96,772.64 248.87,771.51 253.78,770.32 258.69,769.1 263.6,767.88 268.5,766.67 273.41,765.49 278.32,764.32 283.23,763.14 288.14,761.94 293.05,760.7 297.96,759.4 302.87,758.07 307.78,756.7 312.69,755.3 317.6,753.87 322.5,752.42 327.41,750.95 332.32,749.43 337.23,747.85 342.14,746.19 347.05,744.45 351.96,742.65 356.87,740.74 361.78,738.71 366.69,736.52 371.59,734.12 376.5,731.5 381.41,728.7 386.32,725.76 391.23,722.73 396.14,719.59 401.05,716.31 405.96,712.87 410.87,709.27 415.77,705.52 420.68,701.66 425.59,697.67 430.5,693.46 435.41,688.9 440.32,683.91 445.23,678.14 450.14,671.6 455.05,664.7 459.96,657.49 464.87,649.78" stroke="#ff0000" stroke-width="2.4" stroke-linecap="round" stroke-dasharray="0.01 4.5"/>
</g>
<rect x="68.95" y="802.57" width="6.4" height="6.4" fill="none" stroke="#4bacc6" stroke-width="1.15"/>
<rect x="93.49" y="799.3" width="6.4" height="6.4" fill="none" stroke="#4bacc6" stroke-width="1.15"/>
<rect x="118.03" y="795.04" width="6.4" height="6.4" fill="none" stroke="#4bacc6" stroke-width="1.15"/>
<rect x="142.58" y="790.06" width="6.4" height="6.4" fill="none" stroke="#4bacc6" stroke-width="1.15"/>
<rect x="167.12" y="784.8" width="6.4" height="6.4" fill="none" stroke="#4bacc6" stroke-width="1.15"/>
<rect x="191.67" y="778.97" width="6.4" height="6.4" fill="none" stroke="#4bacc6" stroke-width="1.15"/>
<rect x="216.21" y="773.14" width="6.4" height="6.4" fill="none" stroke="#4bacc6" stroke-width="1.15"/>
<rect x="240.76" y="769.44" width="6.4" height="6.4" fill="none" stroke="#4bacc6" stroke-width="1.15"/>
<rect x="265.31" y="760.34" width="6.4" height="6.4" fill="none" stroke="#4bacc6" stroke-width="1.15"/>
<path d="M72.15,802.97 L74.95,808.37 L69.35,808.37 Z" fill="none" stroke="#00b050" stroke-width="1.15"/>
<path d="M96.69,799.7 L99.49,805.1 L93.89,805.1 Z" fill="none" stroke="#00b050" stroke-width="1.15"/>
<path d="M121.23,795.44 L124.03,800.84 L118.43,800.84 Z" fill="none" stroke="#00b050" stroke-width="1.15"/>
<path d="M145.78,790.46 L148.58,795.86 L142.98,795.86 Z" fill="none" stroke="#00b050" stroke-width="1.15"/>
<path d="M170.32,785.2 L173.12,790.6 L167.52,790.6 Z" fill="none" stroke="#00b050" stroke-width="1.15"/>
<path d="M194.87,779.37 L197.67,784.77 L192.07,784.77 Z" fill="none" stroke="#00b050" stroke-width="1.15"/>
<path d="M219.41,773.54 L222.21,778.94 L216.61,778.94 Z" fill="none" stroke="#00b050" stroke-width="1.15"/>
<path d="M243.96,769.84 L246.76,775.24 L241.16,775.24 Z" fill="none" stroke="#00b050" stroke-width="1.15"/>
<path d="M268.5,760.74 L271.31,766.14 L265.7,766.14 Z" fill="none" stroke="#00b050" stroke-width="1.15"/>
<path d="M293.05,756.9 L295.85,762.3 L290.25,762.3 Z" fill="none" stroke="#00b050" stroke-width="1.15"/>
<path d="M317.6,748.23 L320.4,753.63 L314.8,753.63 Z" fill="none" stroke="#00b050" stroke-width="1.15"/>
<path d="M342.14,731.73 L344.94,737.13 L339.34,737.13 Z" fill="none" stroke="#00b050" stroke-width="1.15"/>
<path d="M366.69,715.66 L369.49,721.06 L363.88,721.06 Z" fill="none" stroke="#00b050" stroke-width="1.15"/>
<circle cx="72.15" cy="805.77" r="3.2" fill="none" stroke="#ff2020" stroke-width="1.3"/>
<circle cx="96.69" cy="802.5" r="3.2" fill="none" stroke="#ff2020" stroke-width="1.3"/>
<circle cx="121.23" cy="798.24" r="3.2" fill="none" stroke="#ff2020" stroke-width="1.3"/>
<circle cx="145.78" cy="793.26" r="3.2" fill="none" stroke="#ff2020" stroke-width="1.3"/>
<circle cx="170.32" cy="788" r="3.2" fill="none" stroke="#ff2020" stroke-width="1.3"/>
<circle cx="194.87" cy="782.17" r="3.2" fill="none" stroke="#ff2020" stroke-width="1.3"/>
<circle cx="219.41" cy="776.34" r="3.2" fill="none" stroke="#ff2020" stroke-width="1.3"/>
<text x="35" y="810.2" text-anchor="end" class="tl">0</text>
<text x="35" y="781.76" text-anchor="end" class="tl">2</text>
<text x="35" y="753.32" text-anchor="end" class="tl">4</text>
<text x="35" y="724.88" text-anchor="end" class="tl">6</text>
<text x="35" y="696.44" text-anchor="end" class="tl">8</text>
<text x="35" y="668" text-anchor="end" class="tl">10</text>
<text x="47.6" y="827.1" text-anchor="middle" class="tl">0</text>
<text x="145.78" y="827.1" text-anchor="middle" class="tl">20</text>
<text x="243.96" y="827.1" text-anchor="middle" class="tl">40</text>
<text x="342.14" y="827.1" text-anchor="middle" class="tl">60</text>
<text x="440.32" y="827.1" text-anchor="middle" class="tl">80</text>
<text x="538.5" y="827.1" text-anchor="middle" class="tl">100</text>
<text x="263.4" y="846.2" class="at">|</text>
<text x="268.4" y="846.2" class="at" font-style="italic">B</text>
<text x="275.6" y="848.6" class="sub">app</text>
<text x="290.1" y="846.2" class="at">|</text>
<text x="299.1" y="846.2" class="at" textLength="24.2" lengthAdjust="spacing">[mT]</text>
<g transform="translate(14.4,633) rotate(-90)"><text x="-150.3" y="0" class="at" font-style="italic">R</text><text x="-143.1" y="2.1" class="sub">dyn</text><line x1="-129.6" y1="1.2" x2="-124.1" y2="-9.4" stroke="#000" stroke-width="1.55"/><text x="-124.2" y="0" class="at" font-style="italic">L</text><text x="-114.2" y="0" class="at" textLength="59.4" lengthAdjust="spacing">[μΩ/m/Hz]</text></g>
<text x="1.5" y="646.2" class="pl">(d)</text>
<rect x="53.4" y="34.9" width="127.9" height="122.1" fill="#fff" stroke="#3a3a3a" stroke-width="1.3"/>
<text x="90.5" y="45" class="lg">26.62 Hz (exp)</text>
<path d="M75.6,38.1 L78.7,43.3 L72.5,43.3 Z" fill="none" stroke="#00b050" stroke-width="1.15"/>
<text x="90.5" y="58.68" class="lg">65.44 Hz (exp)</text>
<rect x="72.2" y="51.38" width="6.8" height="6.8" fill="none" stroke="#4bacc6" stroke-width="1.15"/>
<text x="90.5" y="72.36" class="lg">112.5 Hz (exp)</text>
<circle cx="75.8" cy="68.46" r="3.55" fill="none" stroke="#ff2020" stroke-width="1.3"/>
<text x="90.5" y="86.04" class="lg">20 Hz (sim) -30°</text>
<line x1="64.1" y1="82.14" x2="87.1" y2="82.14" stroke="#00b050" stroke-width="2.7" stroke-linecap="round"/>
<text x="90.5" y="99.72" class="lg">50 Hz (sim) -30°</text>
<line x1="64.1" y1="95.82" x2="87.1" y2="95.82" stroke="#0070c0" stroke-width="2.7" stroke-linecap="round"/>
<text x="90.5" y="113.4" class="lg">100 Hz (sim) -30°</text>
<line x1="64.1" y1="109.5" x2="87.1" y2="109.5" stroke="#ff0000" stroke-width="2.7" stroke-linecap="round"/>
<text x="90.5" y="127.08" class="lg">20 Hz (sim) +30°</text>
<line x1="63.8" y1="123.18" x2="88" y2="123.18" stroke="#00b050" stroke-width="2.5" stroke-linecap="round" stroke-dasharray="0.01 4.58"/>
<text x="90.5" y="140.76" class="lg">50 Hz (sim) +30°</text>
<line x1="63.8" y1="136.86" x2="88" y2="136.86" stroke="#0070c0" stroke-width="2.5" stroke-linecap="round" stroke-dasharray="0.01 4.58"/>
<text x="90.5" y="154.44" class="lg">100 Hz (sim) +30°</text>
<line x1="63.8" y1="150.54" x2="88" y2="150.54" stroke="#ff0000" stroke-width="2.5" stroke-linecap="round" stroke-dasharray="0.01 4.58"/>
</svg>
</body></html>
